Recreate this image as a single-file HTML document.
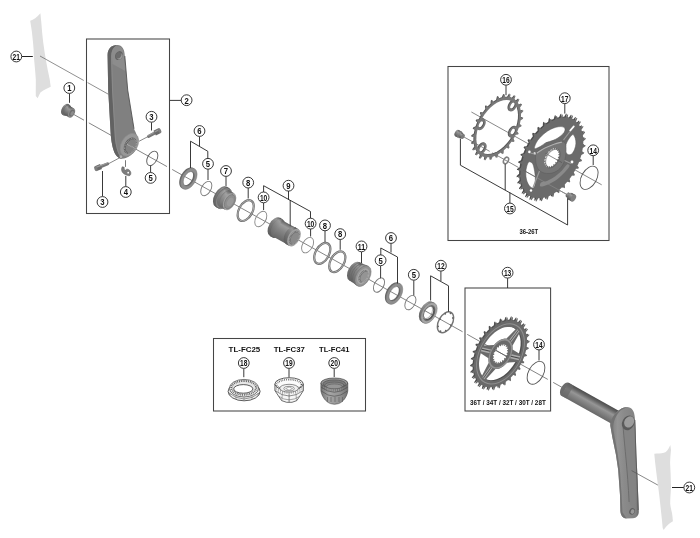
<!DOCTYPE html>
<html><head><meta charset="utf-8"><title>Exploded view</title>
<style>
html,body{margin:0;padding:0;background:#fff;}
body{width:700px;height:538px;overflow:hidden;font-family:"Liberation Sans",sans-serif;}
svg{display:block;will-change:transform;}
.b{font-family:"Liberation Sans",sans-serif;font-weight:bold;fill:#111;}
</style></head><body>
<svg width="700" height="538" viewBox="0 0 700 538">
<defs>
<linearGradient id="g1" gradientUnits="userSpaceOnUse" x1="69.08" y1="104.56" x2="63.12" y2="115.21"><stop offset="0" stop-color="#4e4e4e"/><stop offset="0.3" stop-color="#909090"/><stop offset="1" stop-color="#555"/></linearGradient>
<linearGradient id="g2" gradientUnits="userSpaceOnUse" x1="71.69" y1="107.17" x2="66.71" y2="116.07"><stop offset="0" stop-color="#555"/><stop offset="0.3" stop-color="#9a9a9a"/><stop offset="0.6" stop-color="#7e7e7e"/><stop offset="1" stop-color="#5a5a5a"/></linearGradient>
<linearGradient id="arm" x1="0" y1="0" x2="1" y2="0"><stop offset="0" stop-color="#555"/><stop offset="0.18" stop-color="#6a6a6a"/><stop offset="0.3" stop-color="#808080"/><stop offset="0.75" stop-color="#767676"/><stop offset="1" stop-color="#5c5c5c"/></linearGradient>
<linearGradient id="g3" gradientUnits="userSpaceOnUse" x1="227.96" y1="187.59" x2="216.84" y2="207.49"><stop offset="0" stop-color="#565656"/><stop offset="0.2" stop-color="#9a9a9a"/><stop offset="0.45" stop-color="#808080"/><stop offset="1" stop-color="#606060"/></linearGradient>
<linearGradient id="g4" gradientUnits="userSpaceOnUse" x1="231.24" y1="191.71" x2="222.06" y2="208.12"><stop offset="0" stop-color="#5e5e5e"/><stop offset="0.25" stop-color="#a2a2a2"/><stop offset="0.55" stop-color="#8a8a8a"/><stop offset="1" stop-color="#686868"/></linearGradient>
<linearGradient id="g5" gradientUnits="userSpaceOnUse" x1="281.32" y1="218.56" x2="271.18" y2="236.71"><stop offset="0" stop-color="#555"/><stop offset="0.25" stop-color="#969696"/><stop offset="0.5" stop-color="#7c7c7c"/><stop offset="1" stop-color="#5a5a5a"/></linearGradient>
<linearGradient id="g6" gradientUnits="userSpaceOnUse" x1="288.84" y1="223.9" x2="279.66" y2="240.31"><stop offset="0" stop-color="#606060"/><stop offset="0.22" stop-color="#9c9c9c"/><stop offset="0.5" stop-color="#858585"/><stop offset="1" stop-color="#666"/></linearGradient>
<linearGradient id="g7" gradientUnits="userSpaceOnUse" x1="296.93" y1="228.2" x2="287.57" y2="244.96"><stop offset="0" stop-color="#555"/><stop offset="0.25" stop-color="#969696"/><stop offset="0.5" stop-color="#7c7c7c"/><stop offset="1" stop-color="#5a5a5a"/></linearGradient>
<linearGradient id="g8" gradientUnits="userSpaceOnUse" x1="362.87" y1="264.02" x2="352.63" y2="282.35"><stop offset="0" stop-color="#565656"/><stop offset="0.2" stop-color="#969696"/><stop offset="0.45" stop-color="#7e7e7e"/><stop offset="1" stop-color="#606060"/></linearGradient>
<linearGradient id="g9" gradientUnits="userSpaceOnUse" x1="367.51" y1="265.69" x2="356.49" y2="285.42"><stop offset="0" stop-color="#5e5e5e"/><stop offset="0.25" stop-color="#a0a0a0"/><stop offset="0.55" stop-color="#888"/><stop offset="1" stop-color="#666"/></linearGradient>
<linearGradient id="g10" gradientUnits="userSpaceOnUse" x1="433.56" y1="302.49" x2="422.44" y2="322.4"><stop offset="0" stop-color="#5a5a5a"/><stop offset="0.3" stop-color="#9a9a9a"/><stop offset="1" stop-color="#5e5e5e"/></linearGradient>
<linearGradient id="g11" gradientUnits="userSpaceOnUse" x1="594.11" y1="397.1" x2="586.89" y2="410.02"><stop offset="0" stop-color="#4c4c4c"/><stop offset="0.18" stop-color="#666"/><stop offset="0.42" stop-color="#969696"/><stop offset="0.6" stop-color="#868686"/><stop offset="1" stop-color="#686868"/></linearGradient>
<linearGradient id="arm2" x1="0" y1="0" x2="1" y2="0"><stop offset="0" stop-color="#7c7c7c"/><stop offset="0.25" stop-color="#949494"/><stop offset="0.5" stop-color="#8a8a8a"/><stop offset="0.9" stop-color="#828282"/><stop offset="1" stop-color="#666"/></linearGradient>
<linearGradient id="g12" gradientUnits="userSpaceOnUse" x1="460.36" y1="130.84" x2="456.84" y2="137.12"><stop offset="0" stop-color="#555"/><stop offset="0.3" stop-color="#9a9a9a"/><stop offset="1" stop-color="#555"/></linearGradient>
<linearGradient id="g13" gradientUnits="userSpaceOnUse" x1="462.87" y1="133.39" x2="460.33" y2="137.93"><stop offset="0" stop-color="#555"/><stop offset="0.3" stop-color="#9a9a9a"/><stop offset="1" stop-color="#555"/></linearGradient>
<linearGradient id="g14" gradientUnits="userSpaceOnUse" x1="570.02" y1="193.27" x2="567.48" y2="197.81"><stop offset="0" stop-color="#555"/><stop offset="0.3" stop-color="#9a9a9a"/><stop offset="1" stop-color="#555"/></linearGradient>
<linearGradient id="g15" gradientUnits="userSpaceOnUse" x1="573.55" y1="193.87" x2="569.85" y2="200.51"><stop offset="0" stop-color="#555"/><stop offset="0.3" stop-color="#9a9a9a"/><stop offset="1" stop-color="#555"/></linearGradient>
<linearGradient id="t20" x1="0" y1="0" x2="1" y2="0"><stop offset="0" stop-color="#757575"/><stop offset="0.3" stop-color="#a6a6a6"/><stop offset="0.7" stop-color="#949494"/><stop offset="1" stop-color="#727272"/></linearGradient>
</defs>
<rect width="700" height="538" fill="#fff"/>
<path d="M40.4 13.2 C37 17.5 33.5 19.5 30.2 20.8 C31.5 28 32.4 35 33 42.2 C33.5 47 33.8 52 33.9 57 C34.5 64 35.4 72 35.8 79.3 C35.9 85 35.7 91 35.8 96 L37.7 98.2 C38.6 96 39.4 94 40.4 92.4 C43.5 90 47.5 88.2 50.7 86.8 C50.3 84 50 81.5 49.7 79.3 C48.4 73 47 67 46 60.8 C45 54.5 44 48.5 43.2 42.2 C42.5 36 41.8 30 41.4 23.6 Z" fill="#dedede" stroke="none" stroke-width="1" />
<path d="M670.3 445 C668.5 449.5 666.5 452 664 452.8 C661 453.6 657.5 453.4 654.3 453.8 C654.6 457 654.9 460 655.2 463 C656 470 657 478 658 485.2 C659 493 660 501 660.8 509.3 C661.5 515.5 662.2 522 662.7 528 L663.7 529.9 C665.5 527 667.5 525 669.5 523.5 C670.7 522.7 672 522 672.9 521.3 C672.7 518.5 672.4 515.5 672 513 C671.3 510 670.5 507 670.2 503.8 C670.2 498 670.8 492.5 671 487 C671 479 670.4 471 670.1 463 C670.2 458.5 670.6 454 671 450 Z" fill="#dedede" stroke="none" stroke-width="1" />
<line x1="40" y1="56" x2="83.8" y2="80.5" stroke="#606060" stroke-width="0.7" />
<line x1="87.6" y1="82.6" x2="108.5" y2="94.3" stroke="#606060" stroke-width="0.7" />
<line x1="74" y1="114.6" x2="84" y2="120.19" stroke="#5c5c5c" stroke-width="0.75" />
<line x1="88.8" y1="122.87" x2="167" y2="166.58" stroke="#5c5c5c" stroke-width="0.75" />
<line x1="172.2" y1="169.48" x2="462.6" y2="331.78" stroke="#5c5c5c" stroke-width="0.75" />
<line x1="467.2" y1="334.35" x2="547.8" y2="379.4" stroke="#5c5c5c" stroke-width="0.75" />
<line x1="553.2" y1="382.42" x2="562" y2="387.33" stroke="#5c5c5c" stroke-width="0.75" />
<rect x="86.5" y="39" width="83" height="174.5" fill="none" stroke="#454545" stroke-width="1.05"/>
<rect x="448" y="66.5" width="161" height="174" fill="none" stroke="#454545" stroke-width="1.05"/>
<rect x="465" y="288" width="85.6" height="123" fill="none" stroke="#454545" stroke-width="1.05"/>
<rect x="213.5" y="338.5" width="152" height="72.5" fill="none" stroke="#454545" stroke-width="1.05"/>
<ellipse cx="65.4" cy="109.49" rx="3.66" ry="6.1" transform="rotate(29.2 65.4 109.49)" fill="url(#g1)" stroke="none" stroke-width="1" />
<polygon points="68.38,104.17 69.78,104.95 63.82,115.6 62.42,114.82" fill="url(#g1)"/>
<ellipse cx="66.8" cy="110.28" rx="3.66" ry="6.1" transform="rotate(29.2 66.8 110.28)" fill="#6e6e6e" stroke="none" stroke-width="0.5" />
<ellipse cx="66.8" cy="110.28" rx="3.06" ry="5.1" transform="rotate(29.2 66.8 110.28)" fill="url(#g2)" stroke="none" stroke-width="1" />
<polygon points="69.29,105.82 74.09,108.51 69.11,117.41 64.31,114.73" fill="url(#g2)"/>
<ellipse cx="71.6" cy="112.96" rx="3.06" ry="5.1" transform="rotate(29.2 71.6 112.96)" fill="#8a8a8a" stroke="none" stroke-width="0.5" />
<ellipse cx="71.8" cy="113.07" rx="2.22" ry="3.7" transform="rotate(29.2 71.8 113.07)" fill="#6e6e6e" stroke="none" stroke-width="1" />
<ellipse cx="72.2" cy="113.29" rx="1.44" ry="2.4" transform="rotate(29.2 72.2 113.29)" fill="#8c8c8c" stroke="none" stroke-width="1" />
<path d="M117.5 45 C111 45 107.8 49 107.6 55 L108.2 90 L110.6 132 C111 140 112.5 149 115.2 153.9 C117 157 119.5 158.7 121.8 158.7 C125 158.7 127 157.5 129 156.4 C132 154.5 134.5 152 135.8 149.5 C137.5 146.5 138 144 137.8 142.6 C138 140 137.8 138 137.2 136.3 C136 133 135 131 134 128.8 L127.7 90 L124.8 56 C124.6 49 122 45 117.5 45Z" fill="#808080" stroke="none" stroke-width="1" />
<path d="M111.5 52 C112.5 48 115 46.3 118 46.3 C122 46.5 123.8 50 124 56 L125.2 71 L112.5 64 Z" fill="#8c8c8c" stroke="none" stroke-width="1" />
<path d="M117.5 45 C111 45 107.8 49 107.6 55 L108.2 90 L110.6 132 C111 140 112.5 149 115.2 153.9 C117 157 119.5 158.7 121.8 158.7 C118.5 155.5 116 148 115 138 L112.2 90 L111.2 57 C111.4 51 113.5 46.5 117.5 45Z" fill="#626262" stroke="none" stroke-width="1" />
<path d="M117.5 45.6 C113.5 47 111.6 51 111.5 57 L112.5 90 L115.3 138 C116.2 147 118.5 154.5 121.5 158" fill="none" stroke="#8e8e8e" stroke-width="0.8" />
<path d="M124.8 56 L127.7 90 L134 128.8" fill="none" stroke="#525252" stroke-width="0.9" />
<ellipse cx="118.9" cy="55.6" rx="3.67" ry="4.7" transform="rotate(29.2 118.9 55.6)" fill="#646464" stroke="none" stroke-width="1" />
<ellipse cx="119.7" cy="56.3" rx="2.57" ry="3.3" transform="rotate(29.2 119.7 56.3)" fill="#9a9a9a" stroke="none" stroke-width="1" />
<ellipse cx="118.6" cy="55.3" rx="2.57" ry="3.3" transform="rotate(29.2 118.6 55.3)" fill="#6c6c6c" stroke="none" stroke-width="1" />
<ellipse cx="129.3" cy="144.8" rx="8.12" ry="12.3" transform="rotate(29.2 129.3 144.8)" fill="#989898" stroke="none" stroke-width="1" />
<ellipse cx="129.3" cy="144.8" rx="8.12" ry="12.3" transform="rotate(29.2 129.3 144.8)" fill="none" stroke="#8a8a8a" stroke-width="0.6" />
<ellipse cx="130.2" cy="145.6" rx="5.68" ry="8.6" transform="rotate(29.2 130.2 145.6)" fill="#5e5e5e" stroke="none" stroke-width="1" />
<ellipse cx="131" cy="146" rx="4.75" ry="7.2" transform="rotate(29.2 131 146)" fill="#828282" stroke="none" stroke-width="1" />
<ellipse cx="130.5" cy="145.8" rx="5.15" ry="7.8" transform="rotate(29.2 130.5 145.8)" fill="none" stroke="#a8a8a8" stroke-width="1.0" stroke-dasharray="0.7 0.9"/>
<line x1="127.3" y1="144.3" x2="134.2" y2="148.1" stroke="#c4c4c4" stroke-width="1.1" stroke-dasharray="0.6 0.7"/>
<ellipse cx="120.9" cy="156.7" rx="1.35" ry="1.5" transform="rotate(29.2 120.9 156.7)" fill="#b0b0b0" stroke="none" stroke-width="1" />
<line x1="139" y1="141.3" x2="148.5" y2="136.3" stroke="#555" stroke-width="0.7" />
<line x1="148.6" y1="136.4" x2="154.65" y2="133.21" stroke="#777" stroke-width="3.1" stroke-linecap="round"/>
<line x1="148.27" y1="135.58" x2="154.32" y2="132.39" stroke="#a0a0a0" stroke-width="0.9" />
<line x1="154.65" y1="133.21" x2="159.6" y2="130.6" stroke="#6a6a6a" stroke-width="5.3" />
<line x1="154.65" y1="132.01" x2="159.6" y2="129.4" stroke="#9a9a9a" stroke-width="1.3" />
<ellipse cx="159.6" cy="130.6" rx="1.5" ry="2.65" fill="#7e7e7e" transform="rotate(-27.8 159.6 130.6)"/>
<line x1="108" y1="164" x2="120" y2="157.6" stroke="#555" stroke-width="0.7" />
<line x1="107.6" y1="163.9" x2="101" y2="166.53" stroke="#777" stroke-width="3.1" stroke-linecap="round"/>
<line x1="107.34" y1="163.05" x2="100.74" y2="165.68" stroke="#a0a0a0" stroke-width="0.9" />
<line x1="101" y1="166.53" x2="95.8" y2="168.6" stroke="#6a6a6a" stroke-width="5.3" />
<line x1="101" y1="165.33" x2="95.8" y2="167.4" stroke="#9a9a9a" stroke-width="1.3" />
<ellipse cx="95.8" cy="168.6" rx="1.5" ry="2.65" fill="#7e7e7e" transform="rotate(158.28 95.8 168.6)"/>
<line x1="125.5" y1="160.2" x2="125.5" y2="166.9" stroke="#555" stroke-width="0.8" />
<path d="M122.2 166.8 C121.2 168.5 121.4 171 122.6 172.6 C124 174.3 127 175.6 129 175.8 C130.6 175.6 131 174 130.8 172.5 C130.6 171 129.3 169.6 127.8 169.2 C126.6 169 125.6 169.6 125.2 170.6 C124.6 170.2 124 168.6 124.2 167.2 Z" fill="#7c7c7c" stroke="#555" stroke-width="0.5" />
<circle cx="128.2" cy="172.7" r="0.9" fill="#fff"/>
<ellipse cx="152.3" cy="158.36" rx="4.68" ry="7.8" transform="rotate(29.2 152.3 158.36)" fill="none" stroke="#555" stroke-width="0.9" />
<path fill-rule="evenodd" fill="#666" d="M11.6 0 L11.46 1.81 L11.03 3.58 L10.34 5.27 L9.38 6.82 L8.2 8.2 L6.82 9.38 L5.27 10.34 L3.58 11.03 L1.81 11.46 L0 11.6 L-1.81 11.46 L-3.58 11.03 L-5.27 10.34 L-6.82 9.38 L-8.2 8.2 L-9.38 6.82 L-10.34 5.27 L-11.03 3.58 L-11.46 1.81 L-11.6 0 L-11.46 -1.81 L-11.03 -3.58 L-10.34 -5.27 L-9.38 -6.82 L-8.2 -8.2 L-6.82 -9.38 L-5.27 -10.34 L-3.58 -11.03 L-1.81 -11.46 L-0 -11.6 L1.81 -11.46 L3.58 -11.03 L5.27 -10.34 L6.82 -9.38 L8.2 -8.2 L9.38 -6.82 L10.34 -5.27 L11.03 -3.58 L11.46 -1.81Z M7.8 0 L7.7 1.22 L7.42 2.41 L6.95 3.54 L6.31 4.58 L5.52 5.52 L4.58 6.31 L3.54 6.95 L2.41 7.42 L1.22 7.7 L0 7.8 L-1.22 7.7 L-2.41 7.42 L-3.54 6.95 L-4.58 6.31 L-5.52 5.52 L-6.31 4.58 L-6.95 3.54 L-7.42 2.41 L-7.7 1.22 L-7.8 0 L-7.7 -1.22 L-7.42 -2.41 L-6.95 -3.54 L-6.31 -4.58 L-5.52 -5.52 L-4.58 -6.31 L-3.54 -6.95 L-2.41 -7.42 L-1.22 -7.7 L-0 -7.8 L1.22 -7.7 L2.41 -7.42 L3.54 -6.95 L4.58 -6.31 L5.52 -5.52 L6.31 -4.58 L6.95 -3.54 L7.42 -2.41 L7.7 -1.22Z " transform="translate(187.5 178.06) rotate(29.2) scale(0.6 1)"/>
<path fill-rule="evenodd" fill="#8e8e8e" d="M11.6 0 L11.46 1.81 L11.03 3.58 L10.34 5.27 L9.38 6.82 L8.2 8.2 L6.82 9.38 L5.27 10.34 L3.58 11.03 L1.81 11.46 L0 11.6 L-1.81 11.46 L-3.58 11.03 L-5.27 10.34 L-6.82 9.38 L-8.2 8.2 L-9.38 6.82 L-10.34 5.27 L-11.03 3.58 L-11.46 1.81 L-11.6 0 L-11.46 -1.81 L-11.03 -3.58 L-10.34 -5.27 L-9.38 -6.82 L-8.2 -8.2 L-6.82 -9.38 L-5.27 -10.34 L-3.58 -11.03 L-1.81 -11.46 L-0 -11.6 L1.81 -11.46 L3.58 -11.03 L5.27 -10.34 L6.82 -9.38 L8.2 -8.2 L9.38 -6.82 L10.34 -5.27 L11.03 -3.58 L11.46 -1.81Z M7.8 0 L7.7 1.22 L7.42 2.41 L6.95 3.54 L6.31 4.58 L5.52 5.52 L4.58 6.31 L3.54 6.95 L2.41 7.42 L1.22 7.7 L0 7.8 L-1.22 7.7 L-2.41 7.42 L-3.54 6.95 L-4.58 6.31 L-5.52 5.52 L-6.31 4.58 L-6.95 3.54 L-7.42 2.41 L-7.7 1.22 L-7.8 0 L-7.7 -1.22 L-7.42 -2.41 L-6.95 -3.54 L-6.31 -4.58 L-5.52 -5.52 L-4.58 -6.31 L-3.54 -6.95 L-2.41 -7.42 L-1.22 -7.7 L-0 -7.8 L1.22 -7.7 L2.41 -7.42 L3.54 -6.95 L4.58 -6.31 L5.52 -5.52 L6.31 -4.58 L6.95 -3.54 L7.42 -2.41 L7.7 -1.22Z " transform="translate(188.8 178.76) rotate(29.2) scale(0.6 1)"/>
<ellipse cx="188.8" cy="178.76" rx="4.68" ry="7.8" transform="rotate(29.2 188.8 178.76)" fill="none" stroke="#6a6a6a" stroke-width="0.5" />
<ellipse cx="188.8" cy="178.76" rx="6.96" ry="11.6" transform="rotate(29.2 188.8 178.76)" fill="none" stroke="#7a7a7a" stroke-width="0.4" />
<ellipse cx="206.3" cy="188.54" rx="4.68" ry="7.8" transform="rotate(29.2 206.3 188.54)" fill="none" stroke="#777" stroke-width="0.9" />
<ellipse cx="221.1" cy="196.81" rx="6.84" ry="11.4" transform="rotate(29.2 221.1 196.81)" fill="url(#g3)" stroke="none" stroke-width="1" />
<polygon points="226.66,186.86 229.26,188.31 218.14,208.22 215.54,206.76" fill="url(#g3)"/>
<ellipse cx="223.7" cy="198.26" rx="6.84" ry="11.4" transform="rotate(29.2 223.7 198.26)" fill="#858585" stroke="none" stroke-width="0.5" />
<ellipse cx="222" cy="197.31" rx="6.84" ry="11.4" transform="rotate(29.2 222 197.31)" fill="none" stroke="#646464" stroke-width="0.5" />
<ellipse cx="223.7" cy="198.26" rx="6.84" ry="11.4" transform="rotate(29.2 223.7 198.26)" fill="none" stroke="#646464" stroke-width="0.5" />
<ellipse cx="223.7" cy="198.26" rx="5.64" ry="9.4" transform="rotate(29.2 223.7 198.26)" fill="url(#g4)" stroke="none" stroke-width="1" />
<polygon points="228.29,190.06 234.19,193.36 225.01,209.77 219.11,206.47" fill="url(#g4)"/>
<ellipse cx="229.6" cy="201.56" rx="5.64" ry="9.4" transform="rotate(29.2 229.6 201.56)" fill="#a2a2a2" stroke="none" stroke-width="0.5" />
<ellipse cx="226" cy="199.55" rx="5.64" ry="9.4" transform="rotate(29.2 226 199.55)" fill="none" stroke="#707070" stroke-width="0.5" />
<ellipse cx="229.8" cy="201.67" rx="4.56" ry="7.6" transform="rotate(29.2 229.8 201.67)" fill="#8e8e8e" stroke="none" stroke-width="1" />
<ellipse cx="229.8" cy="201.67" rx="4.56" ry="7.6" transform="rotate(29.2 229.8 201.67)" fill="none" stroke="#747474" stroke-width="0.6" />
<ellipse cx="230.2" cy="201.9" rx="2.76" ry="4.6" transform="rotate(29.2 230.2 201.9)" fill="#9a9a9a" stroke="none" stroke-width="1" />
<ellipse cx="245.7" cy="210.56" rx="6.78" ry="11.3" transform="rotate(29.2 245.7 210.56)" fill="none" stroke="#6c6c6c" stroke-width="2.2" />
<ellipse cx="245.7" cy="210.56" rx="6.78" ry="11.3" transform="rotate(29.2 245.7 210.56)" fill="none" stroke="#b4b4b4" stroke-width="0.8" />
<ellipse cx="260.8" cy="219" rx="5.04" ry="8.4" transform="rotate(29.2 260.8 219)" fill="none" stroke="#888" stroke-width="0.9" />
<ellipse cx="275" cy="226.94" rx="6.24" ry="10.4" transform="rotate(29.2 275 226.94)" fill="url(#g5)" stroke="none" stroke-width="1" />
<polygon points="280.07,217.86 282.57,219.25 272.43,237.41 269.93,236.01" fill="url(#g5)"/>
<ellipse cx="277.5" cy="228.33" rx="6.24" ry="10.4" transform="rotate(29.2 277.5 228.33)" fill="url(#g5)" stroke="none" stroke-width="0.5" />
<ellipse cx="277.5" cy="228.33" rx="5.64" ry="9.4" transform="rotate(29.2 277.5 228.33)" fill="url(#g6)" stroke="none" stroke-width="1" />
<polygon points="282.09,220.13 295.59,227.67 286.41,244.08 272.91,236.54" fill="url(#g6)"/>
<ellipse cx="291" cy="235.88" rx="5.64" ry="9.4" transform="rotate(29.2 291 235.88)" fill="url(#g6)" stroke="none" stroke-width="0.5" />
<ellipse cx="290.5" cy="235.6" rx="5.76" ry="9.6" transform="rotate(29.2 290.5 235.6)" fill="url(#g7)" stroke="none" stroke-width="1" />
<polygon points="295.18,227.22 298.68,229.17 289.32,245.93 285.82,243.98" fill="url(#g7)"/>
<ellipse cx="294" cy="237.55" rx="5.76" ry="9.6" transform="rotate(29.2 294 237.55)" fill="#a0a0a0" stroke="none" stroke-width="0.5" />
<ellipse cx="294.2" cy="237.67" rx="4.56" ry="7.6" transform="rotate(29.2 294.2 237.67)" fill="#6e6e6e" stroke="none" stroke-width="1" />
<ellipse cx="294.9" cy="238.06" rx="3.6" ry="6" transform="rotate(29.2 294.9 238.06)" fill="#8a8a8a" stroke="none" stroke-width="1" />
<ellipse cx="294.5" cy="237.83" rx="4.08" ry="6.8" transform="rotate(29.2 294.5 237.83)" fill="none" stroke="#b0b0b0" stroke-width="1" stroke-dasharray="0.6 0.8"/>
<ellipse cx="307.6" cy="245.15" rx="5.04" ry="8.4" transform="rotate(29.2 307.6 245.15)" fill="none" stroke="#888" stroke-width="0.9" />
<ellipse cx="322.3" cy="253.37" rx="6.78" ry="11.3" transform="rotate(29.2 322.3 253.37)" fill="none" stroke="#6c6c6c" stroke-width="2.2" />
<ellipse cx="322.3" cy="253.37" rx="6.78" ry="11.3" transform="rotate(29.2 322.3 253.37)" fill="none" stroke="#b4b4b4" stroke-width="0.8" />
<ellipse cx="337.3" cy="261.75" rx="6.78" ry="11.3" transform="rotate(29.2 337.3 261.75)" fill="none" stroke="#6c6c6c" stroke-width="2.2" />
<ellipse cx="337.3" cy="261.75" rx="6.78" ry="11.3" transform="rotate(29.2 337.3 261.75)" fill="none" stroke="#b4b4b4" stroke-width="0.8" />
<ellipse cx="354.5" cy="271.37" rx="6.3" ry="10.5" transform="rotate(29.2 354.5 271.37)" fill="url(#g8)" stroke="none" stroke-width="1" />
<polygon points="359.62,262.2 366.12,265.83 355.88,284.16 349.38,280.53" fill="url(#g8)"/>
<ellipse cx="361" cy="275" rx="6.3" ry="10.5" transform="rotate(29.2 361 275)" fill="url(#g8)" stroke="none" stroke-width="0.5" />
<ellipse cx="356.5" cy="272.48" rx="6.3" ry="10.5" transform="rotate(29.2 356.5 272.48)" fill="none" stroke="#626262" stroke-width="0.5" />
<ellipse cx="358.5" cy="273.6" rx="6.3" ry="10.5" transform="rotate(29.2 358.5 273.6)" fill="none" stroke="#626262" stroke-width="0.5" />
<ellipse cx="360.5" cy="274.72" rx="6.3" ry="10.5" transform="rotate(29.2 360.5 274.72)" fill="none" stroke="#626262" stroke-width="0.5" />
<ellipse cx="361" cy="275" rx="6.78" ry="11.3" transform="rotate(29.2 361 275)" fill="url(#g9)" stroke="none" stroke-width="1" />
<polygon points="366.51,265.13 368.51,266.25 357.49,285.98 355.49,284.86" fill="url(#g9)"/>
<ellipse cx="363" cy="276.12" rx="6.78" ry="11.3" transform="rotate(29.2 363 276.12)" fill="#949494" stroke="none" stroke-width="0.5" />
<ellipse cx="363" cy="276.12" rx="6.78" ry="11.3" transform="rotate(29.2 363 276.12)" fill="none" stroke="#707070" stroke-width="0.5" />
<ellipse cx="363.2" cy="276.23" rx="5.16" ry="8.6" transform="rotate(29.2 363.2 276.23)" fill="#a8a8a8" stroke="none" stroke-width="1" />
<ellipse cx="363.4" cy="276.34" rx="4.2" ry="7" transform="rotate(29.2 363.4 276.34)" fill="#727272" stroke="none" stroke-width="1" />
<ellipse cx="364.2" cy="276.79" rx="3.24" ry="5.4" transform="rotate(29.2 364.2 276.79)" fill="#949494" stroke="none" stroke-width="1" />
<ellipse cx="363.7" cy="276.51" rx="3.78" ry="6.3" transform="rotate(29.2 363.7 276.51)" fill="none" stroke="#b8b8b8" stroke-width="1" stroke-dasharray="0.6 0.8"/>
<ellipse cx="379" cy="285.06" rx="4.68" ry="7.8" transform="rotate(29.2 379 285.06)" fill="none" stroke="#777" stroke-width="0.9" />
<path fill-rule="evenodd" fill="#666" d="M11.6 0 L11.46 1.81 L11.03 3.58 L10.34 5.27 L9.38 6.82 L8.2 8.2 L6.82 9.38 L5.27 10.34 L3.58 11.03 L1.81 11.46 L0 11.6 L-1.81 11.46 L-3.58 11.03 L-5.27 10.34 L-6.82 9.38 L-8.2 8.2 L-9.38 6.82 L-10.34 5.27 L-11.03 3.58 L-11.46 1.81 L-11.6 0 L-11.46 -1.81 L-11.03 -3.58 L-10.34 -5.27 L-9.38 -6.82 L-8.2 -8.2 L-6.82 -9.38 L-5.27 -10.34 L-3.58 -11.03 L-1.81 -11.46 L-0 -11.6 L1.81 -11.46 L3.58 -11.03 L5.27 -10.34 L6.82 -9.38 L8.2 -8.2 L9.38 -6.82 L10.34 -5.27 L11.03 -3.58 L11.46 -1.81Z M7.8 0 L7.7 1.22 L7.42 2.41 L6.95 3.54 L6.31 4.58 L5.52 5.52 L4.58 6.31 L3.54 6.95 L2.41 7.42 L1.22 7.7 L0 7.8 L-1.22 7.7 L-2.41 7.42 L-3.54 6.95 L-4.58 6.31 L-5.52 5.52 L-6.31 4.58 L-6.95 3.54 L-7.42 2.41 L-7.7 1.22 L-7.8 0 L-7.7 -1.22 L-7.42 -2.41 L-6.95 -3.54 L-6.31 -4.58 L-5.52 -5.52 L-4.58 -6.31 L-3.54 -6.95 L-2.41 -7.42 L-1.22 -7.7 L-0 -7.8 L1.22 -7.7 L2.41 -7.42 L3.54 -6.95 L4.58 -6.31 L5.52 -5.52 L6.31 -4.58 L6.95 -3.54 L7.42 -2.41 L7.7 -1.22Z " transform="translate(393.2 293.02) rotate(29.2) scale(0.6 1)"/>
<path fill-rule="evenodd" fill="#8e8e8e" d="M11.6 0 L11.46 1.81 L11.03 3.58 L10.34 5.27 L9.38 6.82 L8.2 8.2 L6.82 9.38 L5.27 10.34 L3.58 11.03 L1.81 11.46 L0 11.6 L-1.81 11.46 L-3.58 11.03 L-5.27 10.34 L-6.82 9.38 L-8.2 8.2 L-9.38 6.82 L-10.34 5.27 L-11.03 3.58 L-11.46 1.81 L-11.6 0 L-11.46 -1.81 L-11.03 -3.58 L-10.34 -5.27 L-9.38 -6.82 L-8.2 -8.2 L-6.82 -9.38 L-5.27 -10.34 L-3.58 -11.03 L-1.81 -11.46 L-0 -11.6 L1.81 -11.46 L3.58 -11.03 L5.27 -10.34 L6.82 -9.38 L8.2 -8.2 L9.38 -6.82 L10.34 -5.27 L11.03 -3.58 L11.46 -1.81Z M7.8 0 L7.7 1.22 L7.42 2.41 L6.95 3.54 L6.31 4.58 L5.52 5.52 L4.58 6.31 L3.54 6.95 L2.41 7.42 L1.22 7.7 L0 7.8 L-1.22 7.7 L-2.41 7.42 L-3.54 6.95 L-4.58 6.31 L-5.52 5.52 L-6.31 4.58 L-6.95 3.54 L-7.42 2.41 L-7.7 1.22 L-7.8 0 L-7.7 -1.22 L-7.42 -2.41 L-6.95 -3.54 L-6.31 -4.58 L-5.52 -5.52 L-4.58 -6.31 L-3.54 -6.95 L-2.41 -7.42 L-1.22 -7.7 L-0 -7.8 L1.22 -7.7 L2.41 -7.42 L3.54 -6.95 L4.58 -6.31 L5.52 -5.52 L6.31 -4.58 L6.95 -3.54 L7.42 -2.41 L7.7 -1.22Z " transform="translate(394.5 293.72) rotate(29.2) scale(0.6 1)"/>
<ellipse cx="394.5" cy="293.72" rx="4.68" ry="7.8" transform="rotate(29.2 394.5 293.72)" fill="none" stroke="#6a6a6a" stroke-width="0.5" />
<ellipse cx="394.5" cy="293.72" rx="6.96" ry="11.6" transform="rotate(29.2 394.5 293.72)" fill="none" stroke="#7a7a7a" stroke-width="0.4" />
<ellipse cx="410.4" cy="302.61" rx="4.68" ry="7.8" transform="rotate(29.2 410.4 302.61)" fill="none" stroke="#777" stroke-width="0.9" />
<ellipse cx="427" cy="311.89" rx="6.84" ry="11.4" transform="rotate(29.2 427 311.89)" fill="url(#g10)" stroke="none" stroke-width="1" />
<polygon points="432.56,301.93 434.56,303.05 423.44,322.95 421.44,321.84" fill="url(#g10)"/>
<ellipse cx="429" cy="313" rx="6.84" ry="11.4" transform="rotate(29.2 429 313)" fill="#a6a6a6" stroke="none" stroke-width="0.5" />
<ellipse cx="429" cy="313" rx="6.84" ry="11.4" transform="rotate(29.2 429 313)" fill="none" stroke="#777" stroke-width="0.5" />
<ellipse cx="429.2" cy="313.11" rx="5.28" ry="8.8" transform="rotate(29.2 429.2 313.11)" fill="#707070" stroke="none" stroke-width="1" />
<ellipse cx="429.6" cy="313.34" rx="4.38" ry="7.3" transform="rotate(29.2 429.6 313.34)" fill="#555" stroke="none" stroke-width="1" />
<ellipse cx="428.6" cy="312.78" rx="3.9" ry="6.5" transform="rotate(29.2 428.6 312.78)" fill="#fff" stroke="none" stroke-width="1" />
<ellipse cx="427.6" cy="312.22" rx="4.14" ry="6.9" transform="rotate(29.2 427.6 312.22)" fill="none" stroke="#9a9a9a" stroke-width="0.7" />
<line x1="424.4" y1="310.43" x2="432" y2="314.68" stroke="#555" stroke-width="0.75" />
<ellipse cx="445.5" cy="322.22" rx="6.84" ry="11.4" transform="rotate(29.2 445.5 322.22)" fill="none" stroke="#747474" stroke-width="1.4" />
<circle cx="450.89" cy="325.24" r="0.9" fill="#666"/>
<circle cx="445.76" cy="330.71" r="0.9" fill="#666"/>
<circle cx="440.48" cy="331.22" r="0.9" fill="#666"/>
<circle cx="438.13" cy="326.45" r="0.9" fill="#666"/>
<circle cx="440.11" cy="319.21" r="0.9" fill="#666"/>
<circle cx="445.24" cy="313.73" r="0.9" fill="#666"/>
<circle cx="450.52" cy="313.23" r="0.9" fill="#666"/>
<circle cx="452.87" cy="318" r="0.9" fill="#666"/>
<path fill-rule="evenodd" fill="#4f4f4f" d="M36.2 0 L36.15 1.99 L39.47 3.26 L39.34 4.5 L35.84 5.1 L35.5 7.06 L35.06 9 L38.07 10.9 L37.71 12.09 L34.16 11.99 L33.44 13.85 L32.63 15.67 L35.21 18.12 L34.63 19.21 L31.16 18.43 L30.1 20.11 L28.95 21.74 L31 24.64 L30.21 25.6 L26.97 24.15 L25.6 25.6 L24.15 26.97 L25.6 30.21 L24.64 31 L21.74 28.95 L20.11 30.1 L18.43 31.16 L19.21 34.63 L18.12 35.21 L15.67 32.63 L13.85 33.44 L11.99 34.16 L12.09 37.71 L10.9 38.07 L9 35.06 L7.06 35.5 L5.1 35.84 L4.5 39.34 L3.26 39.47 L1.99 36.15 L0 36.2 L-1.99 36.15 L-3.26 39.47 L-4.5 39.34 L-5.1 35.84 L-7.06 35.5 L-9 35.06 L-10.9 38.07 L-12.09 37.71 L-11.99 34.16 L-13.85 33.44 L-15.67 32.63 L-18.12 35.21 L-19.21 34.63 L-18.43 31.16 L-20.11 30.1 L-21.74 28.95 L-24.64 31 L-25.6 30.21 L-24.15 26.97 L-25.6 25.6 L-26.97 24.15 L-30.21 25.6 L-31 24.64 L-28.95 21.74 L-30.1 20.11 L-31.16 18.43 L-34.63 19.21 L-35.21 18.12 L-32.63 15.67 L-33.44 13.85 L-34.16 11.99 L-37.71 12.09 L-38.07 10.9 L-35.06 9 L-35.5 7.06 L-35.84 5.1 L-39.34 4.5 L-39.47 3.26 L-36.15 1.99 L-36.2 0 L-36.15 -1.99 L-39.47 -3.26 L-39.34 -4.5 L-35.84 -5.1 L-35.5 -7.06 L-35.06 -9 L-38.07 -10.9 L-37.71 -12.09 L-34.16 -11.99 L-33.44 -13.85 L-32.63 -15.67 L-35.21 -18.12 L-34.63 -19.21 L-31.16 -18.43 L-30.1 -20.11 L-28.95 -21.74 L-31 -24.64 L-30.21 -25.6 L-26.97 -24.15 L-25.6 -25.6 L-24.15 -26.97 L-25.6 -30.21 L-24.64 -31 L-21.74 -28.95 L-20.11 -30.1 L-18.43 -31.16 L-19.21 -34.63 L-18.12 -35.21 L-15.67 -32.63 L-13.85 -33.44 L-11.99 -34.16 L-12.09 -37.71 L-10.9 -38.07 L-9 -35.06 L-7.06 -35.5 L-5.1 -35.84 L-4.5 -39.34 L-3.26 -39.47 L-1.99 -36.15 L-0 -36.2 L1.99 -36.15 L3.26 -39.47 L4.5 -39.34 L5.1 -35.84 L7.06 -35.5 L9 -35.06 L10.9 -38.07 L12.09 -37.71 L11.99 -34.16 L13.85 -33.44 L15.67 -32.63 L18.12 -35.21 L19.21 -34.63 L18.43 -31.16 L20.11 -30.1 L21.74 -28.95 L24.64 -31 L25.6 -30.21 L24.15 -26.97 L25.6 -25.6 L26.97 -24.15 L30.21 -25.6 L31 -24.64 L28.95 -21.74 L30.1 -20.11 L31.16 -18.43 L34.63 -19.21 L35.21 -18.12 L32.63 -15.67 L33.44 -13.85 L34.16 -11.99 L37.71 -12.09 L38.07 -10.9 L35.06 -9 L35.5 -7.06 L35.84 -5.1 L39.34 -4.5 L39.47 -3.26 L36.15 -1.99Z M29.2 0 L28.84 4.57 L27.77 9.02 L26.02 13.26 L23.62 17.16 L20.65 20.65 L17.16 23.62 L13.26 26.02 L9.02 27.77 L4.57 28.84 L0 29.2 L-4.57 28.84 L-9.02 27.77 L-13.26 26.02 L-17.16 23.62 L-20.65 20.65 L-23.62 17.16 L-26.02 13.26 L-27.77 9.02 L-28.84 4.57 L-29.2 0 L-28.84 -4.57 L-27.77 -9.02 L-26.02 -13.26 L-23.62 -17.16 L-20.65 -20.65 L-17.16 -23.62 L-13.26 -26.02 L-9.02 -27.77 L-4.57 -28.84 L-0 -29.2 L4.57 -28.84 L9.02 -27.77 L13.26 -26.02 L17.16 -23.62 L20.65 -20.65 L23.62 -17.16 L26.02 -13.26 L27.77 -9.02 L28.84 -4.57Z " transform="translate(499.2 353.16) rotate(29.2) scale(0.63 1)" />
<path fill-rule="evenodd" fill="#6a6a6a" d="M36.2 0 L36.15 1.99 L39.47 3.26 L39.34 4.5 L35.84 5.1 L35.5 7.06 L35.06 9 L38.07 10.9 L37.71 12.09 L34.16 11.99 L33.44 13.85 L32.63 15.67 L35.21 18.12 L34.63 19.21 L31.16 18.43 L30.1 20.11 L28.95 21.74 L31 24.64 L30.21 25.6 L26.97 24.15 L25.6 25.6 L24.15 26.97 L25.6 30.21 L24.64 31 L21.74 28.95 L20.11 30.1 L18.43 31.16 L19.21 34.63 L18.12 35.21 L15.67 32.63 L13.85 33.44 L11.99 34.16 L12.09 37.71 L10.9 38.07 L9 35.06 L7.06 35.5 L5.1 35.84 L4.5 39.34 L3.26 39.47 L1.99 36.15 L0 36.2 L-1.99 36.15 L-3.26 39.47 L-4.5 39.34 L-5.1 35.84 L-7.06 35.5 L-9 35.06 L-10.9 38.07 L-12.09 37.71 L-11.99 34.16 L-13.85 33.44 L-15.67 32.63 L-18.12 35.21 L-19.21 34.63 L-18.43 31.16 L-20.11 30.1 L-21.74 28.95 L-24.64 31 L-25.6 30.21 L-24.15 26.97 L-25.6 25.6 L-26.97 24.15 L-30.21 25.6 L-31 24.64 L-28.95 21.74 L-30.1 20.11 L-31.16 18.43 L-34.63 19.21 L-35.21 18.12 L-32.63 15.67 L-33.44 13.85 L-34.16 11.99 L-37.71 12.09 L-38.07 10.9 L-35.06 9 L-35.5 7.06 L-35.84 5.1 L-39.34 4.5 L-39.47 3.26 L-36.15 1.99 L-36.2 0 L-36.15 -1.99 L-39.47 -3.26 L-39.34 -4.5 L-35.84 -5.1 L-35.5 -7.06 L-35.06 -9 L-38.07 -10.9 L-37.71 -12.09 L-34.16 -11.99 L-33.44 -13.85 L-32.63 -15.67 L-35.21 -18.12 L-34.63 -19.21 L-31.16 -18.43 L-30.1 -20.11 L-28.95 -21.74 L-31 -24.64 L-30.21 -25.6 L-26.97 -24.15 L-25.6 -25.6 L-24.15 -26.97 L-25.6 -30.21 L-24.64 -31 L-21.74 -28.95 L-20.11 -30.1 L-18.43 -31.16 L-19.21 -34.63 L-18.12 -35.21 L-15.67 -32.63 L-13.85 -33.44 L-11.99 -34.16 L-12.09 -37.71 L-10.9 -38.07 L-9 -35.06 L-7.06 -35.5 L-5.1 -35.84 L-4.5 -39.34 L-3.26 -39.47 L-1.99 -36.15 L-0 -36.2 L1.99 -36.15 L3.26 -39.47 L4.5 -39.34 L5.1 -35.84 L7.06 -35.5 L9 -35.06 L10.9 -38.07 L12.09 -37.71 L11.99 -34.16 L13.85 -33.44 L15.67 -32.63 L18.12 -35.21 L19.21 -34.63 L18.43 -31.16 L20.11 -30.1 L21.74 -28.95 L24.64 -31 L25.6 -30.21 L24.15 -26.97 L25.6 -25.6 L26.97 -24.15 L30.21 -25.6 L31 -24.64 L28.95 -21.74 L30.1 -20.11 L31.16 -18.43 L34.63 -19.21 L35.21 -18.12 L32.63 -15.67 L33.44 -13.85 L34.16 -11.99 L37.71 -12.09 L38.07 -10.9 L35.06 -9 L35.5 -7.06 L35.84 -5.1 L39.34 -4.5 L39.47 -3.26 L36.15 -1.99Z M10.29 -12.9 L10.53 -12.71 L10.76 -12.51 L10.99 -12.31 L11.22 -12.1 L11.44 -11.89 L11.66 -11.67 L11.88 -11.45 L12.09 -11.23 L12.3 -11 L12.5 -10.77 L12.7 -10.53 L12.89 -10.29 L13.08 -10.05 L13.27 -9.81 L27.65 -9.4 L27 -11.11 L26.25 -12.78 L25.4 -14.41 L24.45 -15.97 L23.39 -17.47 L22.25 -18.91 L21.02 -20.27 L19.71 -21.54 L18.32 -22.74 L16.86 -23.84 L15.33 -24.85 L13.74 -25.77 L12.09 -26.58 L10.4 -27.28Z M15.89 4.46 L15.53 5.58 L15.09 6.67 L14.58 7.73 L13.99 8.75 L13.33 9.73 L12.6 10.65 L11.81 11.52 L10.96 12.34 L10.05 13.09 L9.09 13.77 L8.08 14.38 L7.04 14.92 L5.95 15.39 L4.84 15.77 L-0.32 29.2 L3.05 29.04 L6.37 28.5 L9.62 27.57 L12.73 26.28 L15.67 24.64 L18.41 22.67 L20.9 20.39 L23.11 17.85 L25.01 15.07 L26.58 12.08 L27.8 8.94 L28.64 5.67 L29.11 2.34 L29.18 -1.03Z M-9.48 13.51 L-9.79 13.28 L-10.1 13.04 L-10.41 12.8 L-10.71 12.55 L-11 12.3 L-11.28 12.04 L-11.57 11.77 L-11.84 11.49 L-12.11 11.21 L-12.37 10.92 L-12.62 10.63 L-12.87 10.33 L-13.11 10.02 L-13.34 9.71 L-27.71 9.2 L-27.03 11.05 L-26.22 12.86 L-25.29 14.6 L-24.24 16.27 L-23.09 17.88 L-21.83 19.4 L-20.47 20.83 L-19.01 22.16 L-17.47 23.4 L-15.85 24.52 L-14.15 25.54 L-12.4 26.44 L-10.58 27.22 L-8.72 27.87Z M-15.86 -4.57 L-15.47 -5.75 L-14.99 -6.89 L-14.43 -8 L-13.79 -9.06 L-13.07 -10.07 L-12.27 -11.03 L-11.41 -11.92 L-10.48 -12.74 L-9.49 -13.5 L-8.45 -14.17 L-7.36 -14.77 L-6.23 -15.28 L-5.07 -15.7 L-3.87 -16.04 L2.1 -29.12 L-1.38 -29.17 L-4.84 -28.8 L-8.24 -28.01 L-11.52 -26.83 L-14.63 -25.27 L-17.54 -23.35 L-20.19 -21.09 L-22.56 -18.54 L-24.61 -15.72 L-26.3 -12.68 L-27.63 -9.45 L-28.56 -6.1 L-29.08 -2.65 L-29.19 0.83Z M10.3 0 L10.17 1.61 L8.89 1.41 L8.56 2.78 L9.8 3.18 L9.18 4.68 L8.02 4.09 L7.28 5.29 L8.33 6.05 L7.28 7.28 L6.36 6.36 L5.29 7.28 L6.05 8.33 L4.68 9.18 L4.09 8.02 L2.78 8.56 L3.18 9.8 L1.61 10.17 L1.41 8.89 L0 9 L0 10.3 L-1.61 10.17 L-1.41 8.89 L-2.78 8.56 L-3.18 9.8 L-4.68 9.18 L-4.09 8.02 L-5.29 7.28 L-6.05 8.33 L-7.28 7.28 L-6.36 6.36 L-7.28 5.29 L-8.33 6.05 L-9.18 4.68 L-8.02 4.09 L-8.56 2.78 L-9.8 3.18 L-10.17 1.61 L-8.89 1.41 L-9 0 L-10.3 0 L-10.17 -1.61 L-8.89 -1.41 L-8.56 -2.78 L-9.8 -3.18 L-9.18 -4.68 L-8.02 -4.09 L-7.28 -5.29 L-8.33 -6.05 L-7.28 -7.28 L-6.36 -6.36 L-5.29 -7.28 L-6.05 -8.33 L-4.68 -9.18 L-4.09 -8.02 L-2.78 -8.56 L-3.18 -9.8 L-1.61 -10.17 L-1.41 -8.89 L-0 -9 L-0 -10.3 L1.61 -10.17 L1.41 -8.89 L2.78 -8.56 L3.18 -9.8 L4.68 -9.18 L4.09 -8.02 L5.29 -7.28 L6.05 -8.33 L7.28 -7.28 L6.36 -6.36 L7.28 -5.29 L8.33 -6.05 L9.18 -4.68 L8.02 -4.09 L8.56 -2.78 L9.8 -3.18 L10.17 -1.61 L8.89 -1.41 L9 -0Z " transform="translate(500.5 353.86) rotate(29.2) scale(0.63 1)" />
<path fill-rule="evenodd" fill="#909090" d="M33.2 0 L32.79 5.19 L31.58 10.26 L29.58 15.07 L26.86 19.51 L23.48 23.48 L19.51 26.86 L15.07 29.58 L10.26 31.58 L5.19 32.79 L0 33.2 L-5.19 32.79 L-10.26 31.58 L-15.07 29.58 L-19.51 26.86 L-23.48 23.48 L-26.86 19.51 L-29.58 15.07 L-31.58 10.26 L-32.79 5.19 L-33.2 0 L-32.79 -5.19 L-31.58 -10.26 L-29.58 -15.07 L-26.86 -19.51 L-23.48 -23.48 L-19.51 -26.86 L-15.07 -29.58 L-10.26 -31.58 L-5.19 -32.79 L-0 -33.2 L5.19 -32.79 L10.26 -31.58 L15.07 -29.58 L19.51 -26.86 L23.48 -23.48 L26.86 -19.51 L29.58 -15.07 L31.58 -10.26 L32.79 -5.19Z M32 0 L31.61 5.01 L30.43 9.89 L28.51 14.53 L25.89 18.81 L22.63 22.63 L18.81 25.89 L14.53 28.51 L9.89 30.43 L5.01 31.61 L0 32 L-5.01 31.61 L-9.89 30.43 L-14.53 28.51 L-18.81 25.89 L-22.63 22.63 L-25.89 18.81 L-28.51 14.53 L-30.43 9.89 L-31.61 5.01 L-32 0 L-31.61 -5.01 L-30.43 -9.89 L-28.51 -14.53 L-25.89 -18.81 L-22.63 -22.63 L-18.81 -25.89 L-14.53 -28.51 L-9.89 -30.43 L-5.01 -31.61 L-0 -32 L5.01 -31.61 L9.89 -30.43 L14.53 -28.51 L18.81 -25.89 L22.63 -22.63 L25.89 -18.81 L28.51 -14.53 L30.43 -9.89 L31.61 -5.01Z " transform="translate(500.5 353.86) rotate(29.2) scale(0.63 1)" />
<line x1="3.57" y1="-16.11" x2="6.51" y2="-29.39" stroke="#acacac" stroke-width="4.2" transform="translate(500.5 353.86) rotate(29.2) scale(0.63 1)"/>
<line x1="3.57" y1="-16.11" x2="6.51" y2="-29.39" stroke="#484848" stroke-width="1.1" transform="translate(500.5 353.86) rotate(29.2) scale(0.63 1)"/>
<line x1="16.23" y1="-2.98" x2="29.61" y2="-5.43" stroke="#acacac" stroke-width="4.2" transform="translate(500.5 353.86) rotate(29.2) scale(0.63 1)"/>
<line x1="16.23" y1="-2.98" x2="29.61" y2="-5.43" stroke="#484848" stroke-width="1.1" transform="translate(500.5 353.86) rotate(29.2) scale(0.63 1)"/>
<line x1="-2.58" y1="16.3" x2="-4.71" y2="29.73" stroke="#acacac" stroke-width="4.2" transform="translate(500.5 353.86) rotate(29.2) scale(0.63 1)"/>
<line x1="-2.58" y1="16.3" x2="-4.71" y2="29.73" stroke="#484848" stroke-width="1.1" transform="translate(500.5 353.86) rotate(29.2) scale(0.63 1)"/>
<line x1="-16.25" y1="2.87" x2="-29.64" y2="5.23" stroke="#acacac" stroke-width="4.2" transform="translate(500.5 353.86) rotate(29.2) scale(0.63 1)"/>
<line x1="-16.25" y1="2.87" x2="-29.64" y2="5.23" stroke="#484848" stroke-width="1.1" transform="translate(500.5 353.86) rotate(29.2) scale(0.63 1)"/>
<path fill-rule="evenodd" fill="#929292" d="M16.2 0 L16 2.53 L15.41 5.01 L14.43 7.35 L13.11 9.52 L11.46 11.46 L9.52 13.11 L7.35 14.43 L5.01 15.41 L2.53 16 L0 16.2 L-2.53 16 L-5.01 15.41 L-7.35 14.43 L-9.52 13.11 L-11.46 11.46 L-13.11 9.52 L-14.43 7.35 L-15.41 5.01 L-16 2.53 L-16.2 0 L-16 -2.53 L-15.41 -5.01 L-14.43 -7.35 L-13.11 -9.52 L-11.46 -11.46 L-9.52 -13.11 L-7.35 -14.43 L-5.01 -15.41 L-2.53 -16 L-0 -16.2 L2.53 -16 L5.01 -15.41 L7.35 -14.43 L9.52 -13.11 L11.46 -11.46 L13.11 -9.52 L14.43 -7.35 L15.41 -5.01 L16 -2.53Z M14.4 0 L14.22 2.25 L13.7 4.45 L12.83 6.54 L11.65 8.46 L10.18 10.18 L8.46 11.65 L6.54 12.83 L4.45 13.7 L2.25 14.22 L0 14.4 L-2.25 14.22 L-4.45 13.7 L-6.54 12.83 L-8.46 11.65 L-10.18 10.18 L-11.65 8.46 L-12.83 6.54 L-13.7 4.45 L-14.22 2.25 L-14.4 0 L-14.22 -2.25 L-13.7 -4.45 L-12.83 -6.54 L-11.65 -8.46 L-10.18 -10.18 L-8.46 -11.65 L-6.54 -12.83 L-4.45 -13.7 L-2.25 -14.22 L-0 -14.4 L2.25 -14.22 L4.45 -13.7 L6.54 -12.83 L8.46 -11.65 L10.18 -10.18 L11.65 -8.46 L12.83 -6.54 L13.7 -4.45 L14.22 -2.25Z " transform="translate(500.5 353.86) rotate(29.2) scale(0.63 1)" />
<line x1="494" y1="349.33" x2="507" y2="356.6" stroke="#555" stroke-width="0.7" />
<ellipse cx="536" cy="372.8" rx="7.44" ry="12.4" transform="rotate(29.2 536 372.8)" fill="none" stroke="#555" stroke-width="0.9" />
<ellipse cx="565" cy="389.31" rx="4.07" ry="7.4" transform="rotate(29.2 565 389.31)" fill="#6c6c6c" stroke="none" stroke-width="1" />
<polygon points="568.61,382.85 619.61,411.35 612.39,424.27 561.39,395.77" fill="url(#g11)" stroke="none" stroke-width="1" />
<polygon points="568.61,382.85 573.61,385.65 566.39,398.56 561.39,395.77" fill="#6a6a6a" stroke="none" stroke-width="1" opacity="0.7"/>
<path d="M627 407 C622 407 617 411 613.5 416 C611 420 610 423 610.4 426 L612.5 438 L616 455 L618.2 470 L620 495 L620.4 511 C620.6 515.5 623 518.4 626.5 518.4 L633 518.2 C636.5 518 638.8 515.5 638.8 511.5 L637.6 480 L636.4 454 L635.6 430 L634.8 417.5 C634.5 411 631.5 407 627 407Z" fill="url(#arm2)" stroke="none" stroke-width="1" />
<path d="M627 407 C622 407 617 411 613.5 416 C611 420 610 423 610.4 426 L612.5 438 L616 455 L618.2 470 L620 495 L620.4 511 C620.6 515.5 623 518.4 626.5 518.4 L622.4 512 L621.6 495 L619.9 470 L617.4 452 L613.4 430 C612.6 424 615 416 620.5 410.5 Z" fill="#727272" stroke="none" stroke-width="1" opacity="0.95"/>
<path d="M623 426 C624.5 445 627.5 470 629 502 C629.2 506.5 635.4 506.5 635.4 502 L634.6 470 L634.2 440 L634.3 426 Z" fill="#848484" stroke="none" stroke-width="1" />
<path d="M623.2 428 C624.6 447 627.6 470 629.1 502" fill="none" stroke="#6a6a6a" stroke-width="0.9" />
<path d="M634.9 420 L635.9 455 L637.1 480 L638.2 510" fill="none" stroke="#5a5a5a" stroke-width="0.9" />
<ellipse cx="628.3" cy="422.9" rx="6.08" ry="7.6" transform="rotate(29.2 628.3 422.9)" fill="#5a5a5a" stroke="none" stroke-width="1" />
<ellipse cx="629.2" cy="421.9" rx="4.72" ry="5.9" transform="rotate(29.2 629.2 421.9)" fill="#9c9c9c" stroke="none" stroke-width="1" />
<ellipse cx="632.1" cy="511.4" rx="2.72" ry="3.4" transform="rotate(29.2 632.1 511.4)" fill="#5e5e5e" stroke="none" stroke-width="1" />
<ellipse cx="632.5" cy="511.6" rx="1.84" ry="2.3" transform="rotate(29.2 632.5 511.6)" fill="#999" stroke="none" stroke-width="1" />
<line x1="631.6" y1="470.6" x2="657.9" y2="485.1" stroke="#555" stroke-width="0.7" />
<line x1="471.4" y1="112" x2="601.7" y2="184.82" stroke="#555" stroke-width="0.7" />
<line x1="463.5" y1="136.72" x2="568" y2="195.12" stroke="#555" stroke-width="0.7" stroke-dasharray="30 3"/>
<g transform="translate(497.6 127.24) rotate(29.2) scale(0.6 1)"><mask id="m16"><rect x="-60" y="-60" width="120" height="120" fill="#fff"/><path d="M29.7 0 L29.33 4.65 L28.25 9.18 L26.46 13.48 L24.03 17.46 L21 21 L17.46 24.03 L13.48 26.46 L9.18 28.25 L4.65 29.33 L0 29.7 L-4.65 29.33 L-9.18 28.25 L-13.48 26.46 L-17.46 24.03 L-21 21 L-24.03 17.46 L-26.46 13.48 L-28.25 9.18 L-29.33 4.65 L-29.7 0 L-29.33 -4.65 L-28.25 -9.18 L-26.46 -13.48 L-24.03 -17.46 L-21 -21 L-17.46 -24.03 L-13.48 -26.46 L-9.18 -28.25 L-4.65 -29.33 L-0 -29.7 L4.65 -29.33 L9.18 -28.25 L13.48 -26.46 L17.46 -24.03 L21 -21 L24.03 -17.46 L26.46 -13.48 L28.25 -9.18 L29.33 -4.65Z " fill="#000"/><path d="M10.92 -26.2 L10.61 -24.25 L9.72 -22.49 L8.32 -21.1 L6.57 -20.2 L4.62 -19.9 L2.67 -20.2 L0.92 -21.1 L-0.48 -22.49 L-1.37 -24.25 L-1.68 -26.2 L-1.37 -28.14 L-0.48 -29.9 L0.92 -31.29 L2.67 -32.19 L4.62 -32.5 L6.57 -32.19 L8.32 -31.29 L9.72 -29.9 L10.61 -28.14Z M32.67 -3.47 L32.36 -1.53 L31.47 0.23 L30.08 1.62 L28.32 2.52 L26.37 2.83 L24.43 2.52 L22.67 1.62 L21.28 0.23 L20.38 -1.53 L20.07 -3.47 L20.38 -5.42 L21.28 -7.18 L22.67 -8.57 L24.43 -9.46 L26.37 -9.77 L28.32 -9.46 L30.08 -8.57 L31.47 -7.18 L32.36 -5.42Z M1.22 26.11 L0.92 28.06 L0.02 29.81 L-1.37 31.21 L-3.13 32.1 L-5.08 32.41 L-7.02 32.1 L-8.78 31.21 L-10.17 29.81 L-11.07 28.06 L-11.38 26.11 L-11.07 24.16 L-10.17 22.41 L-8.78 21.01 L-7.02 20.12 L-5.08 19.81 L-3.13 20.12 L-1.37 21.01 L0.02 22.41 L0.92 24.16Z M-19.72 5.53 L-20.03 7.48 L-20.92 9.23 L-22.32 10.63 L-24.07 11.52 L-26.02 11.83 L-27.97 11.52 L-29.72 10.63 L-31.12 9.23 L-32.01 7.48 L-32.32 5.53 L-32.01 3.58 L-31.12 1.83 L-29.72 0.43 L-27.97 -0.46 L-26.02 -0.77 L-24.07 -0.46 L-22.32 0.43 L-20.92 1.83 L-20.03 3.58Z " fill="#fff"/><circle cx="4.62" cy="-26.2" r="3.5" fill="#000"/><circle cx="26.37" cy="-3.47" r="3.5" fill="#000"/><circle cx="-5.08" cy="26.11" r="3.5" fill="#000"/><circle cx="-26.02" cy="5.53" r="3.5" fill="#000"/></mask>
<path d="M32.7 0 L32.63 2.21 L35.81 3.65 L35.65 5.03 L32.21 5.66 L31.75 7.83 L31.15 9.95 L33.9 12.11 L33.41 13.41 L29.92 13.2 L28.95 15.2 L27.86 17.12 L30.02 19.87 L29.23 21.02 L25.89 19.98 L24.48 21.68 L22.95 23.29 L24.39 26.48 L23.35 27.4 L20.35 25.59 L18.58 26.91 L16.71 28.11 L17.34 31.55 L16.11 32.19 L13.64 29.72 L11.6 30.58 L9.5 31.29 L9.29 34.78 L7.94 35.11 L6.13 32.12 L3.94 32.46 L1.74 32.65 L0.7 35.99 L-0.7 35.99 L-1.74 32.65 L-3.94 32.46 L-6.13 32.12 L-7.94 35.11 L-9.29 34.78 L-9.5 31.29 L-11.6 30.58 L-13.64 29.72 L-16.11 32.19 L-17.34 31.55 L-16.71 28.11 L-18.58 26.91 L-20.35 25.59 L-23.35 27.4 L-24.39 26.48 L-22.95 23.29 L-24.48 21.68 L-25.89 19.98 L-29.23 21.02 L-30.02 19.87 L-27.86 17.12 L-28.95 15.2 L-29.92 13.2 L-33.41 13.41 L-33.9 12.11 L-31.15 9.95 L-31.75 7.83 L-32.21 5.66 L-35.65 5.03 L-35.81 3.65 L-32.63 2.21 L-32.7 -0 L-32.63 -2.21 L-35.81 -3.65 L-35.65 -5.03 L-32.21 -5.66 L-31.75 -7.83 L-31.15 -9.95 L-33.9 -12.11 L-33.41 -13.41 L-29.92 -13.2 L-28.95 -15.2 L-27.86 -17.12 L-30.02 -19.87 L-29.23 -21.02 L-25.89 -19.98 L-24.48 -21.68 L-22.95 -23.29 L-24.39 -26.48 L-23.35 -27.4 L-20.35 -25.59 L-18.58 -26.91 L-16.71 -28.11 L-17.34 -31.55 L-16.11 -32.19 L-13.64 -29.72 L-11.6 -30.58 L-9.5 -31.29 L-9.29 -34.78 L-7.94 -35.11 L-6.13 -32.12 L-3.94 -32.46 L-1.74 -32.65 L-0.7 -35.99 L0.7 -35.99 L1.74 -32.65 L3.94 -32.46 L6.13 -32.12 L7.94 -35.11 L9.29 -34.78 L9.5 -31.29 L11.6 -30.58 L13.64 -29.72 L16.11 -32.19 L17.34 -31.55 L16.71 -28.11 L18.58 -26.91 L20.35 -25.59 L23.35 -27.4 L24.39 -26.48 L22.95 -23.29 L24.48 -21.68 L25.89 -19.98 L29.23 -21.02 L30.02 -19.87 L27.86 -17.12 L28.95 -15.2 L29.92 -13.2 L33.41 -13.41 L33.9 -12.11 L31.15 -9.95 L31.75 -7.83 L32.21 -5.66 L35.65 -5.03 L35.81 -3.65 L32.63 -2.21Z " fill="#555" mask="url(#m16)" transform="translate(-1.6 0)"/>
<path d="M32.7 0 L32.63 2.21 L35.81 3.65 L35.65 5.03 L32.21 5.66 L31.75 7.83 L31.15 9.95 L33.9 12.11 L33.41 13.41 L29.92 13.2 L28.95 15.2 L27.86 17.12 L30.02 19.87 L29.23 21.02 L25.89 19.98 L24.48 21.68 L22.95 23.29 L24.39 26.48 L23.35 27.4 L20.35 25.59 L18.58 26.91 L16.71 28.11 L17.34 31.55 L16.11 32.19 L13.64 29.72 L11.6 30.58 L9.5 31.29 L9.29 34.78 L7.94 35.11 L6.13 32.12 L3.94 32.46 L1.74 32.65 L0.7 35.99 L-0.7 35.99 L-1.74 32.65 L-3.94 32.46 L-6.13 32.12 L-7.94 35.11 L-9.29 34.78 L-9.5 31.29 L-11.6 30.58 L-13.64 29.72 L-16.11 32.19 L-17.34 31.55 L-16.71 28.11 L-18.58 26.91 L-20.35 25.59 L-23.35 27.4 L-24.39 26.48 L-22.95 23.29 L-24.48 21.68 L-25.89 19.98 L-29.23 21.02 L-30.02 19.87 L-27.86 17.12 L-28.95 15.2 L-29.92 13.2 L-33.41 13.41 L-33.9 12.11 L-31.15 9.95 L-31.75 7.83 L-32.21 5.66 L-35.65 5.03 L-35.81 3.65 L-32.63 2.21 L-32.7 -0 L-32.63 -2.21 L-35.81 -3.65 L-35.65 -5.03 L-32.21 -5.66 L-31.75 -7.83 L-31.15 -9.95 L-33.9 -12.11 L-33.41 -13.41 L-29.92 -13.2 L-28.95 -15.2 L-27.86 -17.12 L-30.02 -19.87 L-29.23 -21.02 L-25.89 -19.98 L-24.48 -21.68 L-22.95 -23.29 L-24.39 -26.48 L-23.35 -27.4 L-20.35 -25.59 L-18.58 -26.91 L-16.71 -28.11 L-17.34 -31.55 L-16.11 -32.19 L-13.64 -29.72 L-11.6 -30.58 L-9.5 -31.29 L-9.29 -34.78 L-7.94 -35.11 L-6.13 -32.12 L-3.94 -32.46 L-1.74 -32.65 L-0.7 -35.99 L0.7 -35.99 L1.74 -32.65 L3.94 -32.46 L6.13 -32.12 L7.94 -35.11 L9.29 -34.78 L9.5 -31.29 L11.6 -30.58 L13.64 -29.72 L16.11 -32.19 L17.34 -31.55 L16.71 -28.11 L18.58 -26.91 L20.35 -25.59 L23.35 -27.4 L24.39 -26.48 L22.95 -23.29 L24.48 -21.68 L25.89 -19.98 L29.23 -21.02 L30.02 -19.87 L27.86 -17.12 L28.95 -15.2 L29.92 -13.2 L33.41 -13.41 L33.9 -12.11 L31.15 -9.95 L31.75 -7.83 L32.21 -5.66 L35.65 -5.03 L35.81 -3.65 L32.63 -2.21Z " fill="#787878" mask="url(#m16)"/></g>
<path fill-rule="evenodd" fill="#4c4c4c" d="M43.9 0 L43.85 2.14 L47.17 3.46 L47.06 4.78 L43.55 5.5 L43.23 7.62 L42.81 9.73 L45.85 11.6 L45.51 12.88 L41.94 12.98 L41.25 15.01 L40.47 17.01 L43.14 19.39 L42.59 20.59 L39.05 20.07 L38.02 21.95 L36.9 23.78 L39.12 26.59 L38.36 27.67 L34.97 26.54 L33.63 28.22 L32.21 29.83 L33.91 32.98 L32.98 33.91 L29.83 32.21 L28.22 33.63 L26.54 34.97 L27.67 38.36 L26.59 39.12 L23.78 36.9 L21.95 38.02 L20.07 39.05 L20.59 42.59 L19.39 43.14 L17.01 40.47 L15.01 41.25 L12.98 41.94 L12.88 45.51 L11.6 45.85 L9.73 42.81 L7.62 43.23 L5.5 43.55 L4.78 47.06 L3.46 47.17 L2.14 43.85 L0 43.9 L-2.14 43.85 L-3.46 47.17 L-4.78 47.06 L-5.5 43.55 L-7.62 43.23 L-9.73 42.81 L-11.6 45.85 L-12.88 45.51 L-12.98 41.94 L-15.01 41.25 L-17.01 40.47 L-19.39 43.14 L-20.59 42.59 L-20.07 39.05 L-21.95 38.02 L-23.78 36.9 L-26.59 39.12 L-27.67 38.36 L-26.54 34.97 L-28.22 33.63 L-29.83 32.21 L-32.98 33.91 L-33.91 32.98 L-32.21 29.83 L-33.63 28.22 L-34.97 26.54 L-38.36 27.67 L-39.12 26.59 L-36.9 23.78 L-38.02 21.95 L-39.05 20.07 L-42.59 20.59 L-43.14 19.39 L-40.47 17.01 L-41.25 15.01 L-41.94 12.98 L-45.51 12.88 L-45.85 11.6 L-42.81 9.73 L-43.23 7.62 L-43.55 5.5 L-47.06 4.78 L-47.17 3.46 L-43.85 2.14 L-43.9 0 L-43.85 -2.14 L-47.17 -3.46 L-47.06 -4.78 L-43.55 -5.5 L-43.23 -7.62 L-42.81 -9.73 L-45.85 -11.6 L-45.51 -12.88 L-41.94 -12.98 L-41.25 -15.01 L-40.47 -17.01 L-43.14 -19.39 L-42.59 -20.59 L-39.05 -20.07 L-38.02 -21.95 L-36.9 -23.78 L-39.12 -26.59 L-38.36 -27.67 L-34.97 -26.54 L-33.63 -28.22 L-32.21 -29.83 L-33.91 -32.98 L-32.98 -33.91 L-29.83 -32.21 L-28.22 -33.63 L-26.54 -34.97 L-27.67 -38.36 L-26.59 -39.12 L-23.78 -36.9 L-21.95 -38.02 L-20.07 -39.05 L-20.59 -42.59 L-19.39 -43.14 L-17.01 -40.47 L-15.01 -41.25 L-12.98 -41.94 L-12.88 -45.51 L-11.6 -45.85 L-9.73 -42.81 L-7.62 -43.23 L-5.5 -43.55 L-4.78 -47.06 L-3.46 -47.17 L-2.14 -43.85 L-0 -43.9 L2.14 -43.85 L3.46 -47.17 L4.78 -47.06 L5.5 -43.55 L7.62 -43.23 L9.73 -42.81 L11.6 -45.85 L12.88 -45.51 L12.98 -41.94 L15.01 -41.25 L17.01 -40.47 L19.39 -43.14 L20.59 -42.59 L20.07 -39.05 L21.95 -38.02 L23.78 -36.9 L26.59 -39.12 L27.67 -38.36 L26.54 -34.97 L28.22 -33.63 L29.83 -32.21 L32.98 -33.91 L33.91 -32.98 L32.21 -29.83 L33.63 -28.22 L34.97 -26.54 L38.36 -27.67 L39.12 -26.59 L36.9 -23.78 L38.02 -21.95 L39.05 -20.07 L42.59 -20.59 L43.14 -19.39 L40.47 -17.01 L41.25 -15.01 L41.94 -12.98 L45.51 -12.88 L45.85 -11.6 L42.81 -9.73 L43.23 -7.62 L43.55 -5.5 L47.06 -4.78 L47.17 -3.46 L43.85 -2.14Z " transform="translate(550.5 157.19) rotate(29.2) scale(0.6 1)" />
<path fill-rule="evenodd" fill="#6b6b6b" d="M43.9 0 L43.85 2.14 L47.17 3.46 L47.06 4.78 L43.55 5.5 L43.23 7.62 L42.81 9.73 L45.85 11.6 L45.51 12.88 L41.94 12.98 L41.25 15.01 L40.47 17.01 L43.14 19.39 L42.59 20.59 L39.05 20.07 L38.02 21.95 L36.9 23.78 L39.12 26.59 L38.36 27.67 L34.97 26.54 L33.63 28.22 L32.21 29.83 L33.91 32.98 L32.98 33.91 L29.83 32.21 L28.22 33.63 L26.54 34.97 L27.67 38.36 L26.59 39.12 L23.78 36.9 L21.95 38.02 L20.07 39.05 L20.59 42.59 L19.39 43.14 L17.01 40.47 L15.01 41.25 L12.98 41.94 L12.88 45.51 L11.6 45.85 L9.73 42.81 L7.62 43.23 L5.5 43.55 L4.78 47.06 L3.46 47.17 L2.14 43.85 L0 43.9 L-2.14 43.85 L-3.46 47.17 L-4.78 47.06 L-5.5 43.55 L-7.62 43.23 L-9.73 42.81 L-11.6 45.85 L-12.88 45.51 L-12.98 41.94 L-15.01 41.25 L-17.01 40.47 L-19.39 43.14 L-20.59 42.59 L-20.07 39.05 L-21.95 38.02 L-23.78 36.9 L-26.59 39.12 L-27.67 38.36 L-26.54 34.97 L-28.22 33.63 L-29.83 32.21 L-32.98 33.91 L-33.91 32.98 L-32.21 29.83 L-33.63 28.22 L-34.97 26.54 L-38.36 27.67 L-39.12 26.59 L-36.9 23.78 L-38.02 21.95 L-39.05 20.07 L-42.59 20.59 L-43.14 19.39 L-40.47 17.01 L-41.25 15.01 L-41.94 12.98 L-45.51 12.88 L-45.85 11.6 L-42.81 9.73 L-43.23 7.62 L-43.55 5.5 L-47.06 4.78 L-47.17 3.46 L-43.85 2.14 L-43.9 0 L-43.85 -2.14 L-47.17 -3.46 L-47.06 -4.78 L-43.55 -5.5 L-43.23 -7.62 L-42.81 -9.73 L-45.85 -11.6 L-45.51 -12.88 L-41.94 -12.98 L-41.25 -15.01 L-40.47 -17.01 L-43.14 -19.39 L-42.59 -20.59 L-39.05 -20.07 L-38.02 -21.95 L-36.9 -23.78 L-39.12 -26.59 L-38.36 -27.67 L-34.97 -26.54 L-33.63 -28.22 L-32.21 -29.83 L-33.91 -32.98 L-32.98 -33.91 L-29.83 -32.21 L-28.22 -33.63 L-26.54 -34.97 L-27.67 -38.36 L-26.59 -39.12 L-23.78 -36.9 L-21.95 -38.02 L-20.07 -39.05 L-20.59 -42.59 L-19.39 -43.14 L-17.01 -40.47 L-15.01 -41.25 L-12.98 -41.94 L-12.88 -45.51 L-11.6 -45.85 L-9.73 -42.81 L-7.62 -43.23 L-5.5 -43.55 L-4.78 -47.06 L-3.46 -47.17 L-2.14 -43.85 L-0 -43.9 L2.14 -43.85 L3.46 -47.17 L4.78 -47.06 L5.5 -43.55 L7.62 -43.23 L9.73 -42.81 L11.6 -45.85 L12.88 -45.51 L12.98 -41.94 L15.01 -41.25 L17.01 -40.47 L19.39 -43.14 L20.59 -42.59 L20.07 -39.05 L21.95 -38.02 L23.78 -36.9 L26.59 -39.12 L27.67 -38.36 L26.54 -34.97 L28.22 -33.63 L29.83 -32.21 L32.98 -33.91 L33.91 -32.98 L32.21 -29.83 L33.63 -28.22 L34.97 -26.54 L38.36 -27.67 L39.12 -26.59 L36.9 -23.78 L38.02 -21.95 L39.05 -20.07 L42.59 -20.59 L43.14 -19.39 L40.47 -17.01 L41.25 -15.01 L41.94 -12.98 L45.51 -12.88 L45.85 -11.6 L42.81 -9.73 L43.23 -7.62 L43.55 -5.5 L47.06 -4.78 L47.17 -3.46 L43.85 -2.14Z " transform="translate(551.9 157.89) rotate(29.2) scale(0.6 1)" />
<path d="M540.5 186.5 C541.67 186.83 545.25 185.67 548 184.5 C550.75 183.33 554.17 181.58 557 179.5 C559.83 177.42 562.92 174.25 565 172 C567.08 169.75 569.17 167.25 569.5 166 C569.83 164.75 568.25 163.75 567 164.5 C565.75 165.25 564 168.5 562 170.5 C560 172.5 557.5 174.75 555 176.5 C552.5 178.25 549.33 180 547 181 C544.67 182 542.08 181.58 541 182.5 C539.92 183.42 539.33 186.17 540.5 186.5 Z " fill="#8a8a8a" stroke="none" stroke-width="1" />
<path d="M534.6 148.6 C533.87 148.02 535.33 144.6 536.2 142.8 C537.07 141 538.33 139.45 539.8 137.8 C541.27 136.15 543.25 134.28 545 132.9 C546.75 131.52 548.5 130.43 550.3 129.5 C552.1 128.57 554.03 127.78 555.8 127.3 C557.57 126.82 559.45 126.52 560.9 126.6 C562.35 126.68 563.85 127.07 564.5 127.8 C565.15 128.53 565.12 129.93 564.8 131 C564.48 132.07 563.77 133.03 562.6 134.2 C561.43 135.37 559.28 137.02 557.8 138 C556.32 138.98 555.08 139.5 553.7 140.1 C552.32 140.7 550.87 141.13 549.5 141.6 C548.13 142.07 546.98 142.12 545.5 142.9 C544.02 143.68 542.42 145.35 540.6 146.3 C538.78 147.25 535.33 149.18 534.6 148.6 Z " fill="#fff" stroke="#555" stroke-width="0.5" />
<path d="M573.1 134.6 C573.98 134.82 574.83 137 575.3 138.5 C575.77 140 576.03 141.77 575.9 143.6 C575.77 145.43 575.27 147.72 574.5 149.5 C573.73 151.28 572.47 153.52 571.3 154.3 C570.13 155.08 568.5 154.78 567.5 154.2 C566.5 153.62 565.63 152.08 565.3 150.8 C564.97 149.52 565.22 147.97 565.5 146.5 C565.78 145.03 566.25 143.55 567 142 C567.75 140.45 568.98 138.43 570 137.2 C571.02 135.97 572.22 134.38 573.1 134.6 Z " fill="#fff" stroke="#555" stroke-width="0.5" />
<path d="M528.8 162 C527.85 162.62 527.1 165.17 526.6 167 C526.1 168.83 525.8 170.83 525.8 173 C525.8 175.17 525.98 177.83 526.6 180 C527.22 182.17 528.43 184.67 529.5 186 C530.57 187.33 532.08 188.17 533 188 C533.92 187.83 534.62 186.33 535 185 C535.38 183.67 535.28 181.67 535.3 180 C535.32 178.33 535.32 177 535.1 175 C534.88 173 534.47 169.95 534 168 C533.53 166.05 533.17 164.3 532.3 163.3 C531.43 162.3 529.75 161.38 528.8 162 Z " fill="#fff" stroke="#555" stroke-width="0.5" />
<path d="M536.5 152.5 C538 149.92 542.08 148.95 545 147.5 C547.92 146.05 551.17 144.78 554 143.8 C556.83 142.82 560.08 141.57 562 141.6 C563.92 141.63 564.83 142.27 565.5 144 C566.17 145.73 566.17 149.17 566 152 C565.83 154.83 565.5 158.25 564.5 161 C563.5 163.75 561.92 166.53 560 168.5 C558.08 170.47 555.5 172.02 553 172.8 C550.5 173.58 547.33 173.67 545 173.2 C542.67 172.73 540.5 171.7 539 170 C537.5 168.3 536.42 165.92 536 163 C535.58 160.08 535 155.08 536.5 152.5 Z " fill="#767676" stroke="#5a5a5a" stroke-width="0.5" />
<path d="M536.8 153 C538.17 152.17 542.13 149.45 545 148 C547.87 146.55 551.17 145.3 554 144.3 C556.83 143.3 560.67 142.38 562 142 " fill="none" stroke="#b0b0b0" stroke-width="1.1" />
<path fill-rule="evenodd" fill="#fff" d="M10.6 0 L10.47 1.66 L8.99 1.42 L8.65 2.81 L10.08 3.28 L9.44 4.81 L8.11 4.13 L7.36 5.35 L8.58 6.23 L7.5 7.5 L6.43 6.43 L5.35 7.36 L6.23 8.58 L4.81 9.44 L4.13 8.11 L2.81 8.65 L3.28 10.08 L1.66 10.47 L1.42 8.99 L0 9.1 L0 10.6 L-1.66 10.47 L-1.42 8.99 L-2.81 8.65 L-3.28 10.08 L-4.81 9.44 L-4.13 8.11 L-5.35 7.36 L-6.23 8.58 L-7.5 7.5 L-6.43 6.43 L-7.36 5.35 L-8.58 6.23 L-9.44 4.81 L-8.11 4.13 L-8.65 2.81 L-10.08 3.28 L-10.47 1.66 L-8.99 1.42 L-9.1 0 L-10.6 0 L-10.47 -1.66 L-8.99 -1.42 L-8.65 -2.81 L-10.08 -3.28 L-9.44 -4.81 L-8.11 -4.13 L-7.36 -5.35 L-8.58 -6.23 L-7.5 -7.5 L-6.43 -6.43 L-5.35 -7.36 L-6.23 -8.58 L-4.81 -9.44 L-4.13 -8.11 L-2.81 -8.65 L-3.28 -10.08 L-1.66 -10.47 L-1.42 -8.99 L-0 -9.1 L-0 -10.6 L1.66 -10.47 L1.42 -8.99 L2.81 -8.65 L3.28 -10.08 L4.81 -9.44 L4.13 -8.11 L5.35 -7.36 L6.23 -8.58 L7.5 -7.5 L6.43 -6.43 L7.36 -5.35 L8.58 -6.23 L9.44 -4.81 L8.11 -4.13 L8.65 -2.81 L10.08 -3.28 L10.47 -1.66 L8.99 -1.42 L9.1 -0Z " transform="translate(551.9 157.89) rotate(29.2) scale(0.6 1)" />
<path fill-rule="evenodd" fill="#555" d="M10.9 0 L10.77 1.71 L10.37 3.37 L9.71 4.95 L8.82 6.41 L7.71 7.71 L6.41 8.82 L4.95 9.71 L3.37 10.37 L1.71 10.77 L0 10.9 L-1.71 10.77 L-3.37 10.37 L-4.95 9.71 L-6.41 8.82 L-7.71 7.71 L-8.82 6.41 L-9.71 4.95 L-10.37 3.37 L-10.77 1.71 L-10.9 0 L-10.77 -1.71 L-10.37 -3.37 L-9.71 -4.95 L-8.82 -6.41 L-7.71 -7.71 L-6.41 -8.82 L-4.95 -9.71 L-3.37 -10.37 L-1.71 -10.77 L-0 -10.9 L1.71 -10.77 L3.37 -10.37 L4.95 -9.71 L6.41 -8.82 L7.71 -7.71 L8.82 -6.41 L9.71 -4.95 L10.37 -3.37 L10.77 -1.71Z M9.3 0 L9.19 1.45 L8.84 2.87 L8.29 4.22 L7.52 5.47 L6.58 6.58 L5.47 7.52 L4.22 8.29 L2.87 8.84 L1.45 9.19 L0 9.3 L-1.45 9.19 L-2.87 8.84 L-4.22 8.29 L-5.47 7.52 L-6.58 6.58 L-7.52 5.47 L-8.29 4.22 L-8.84 2.87 L-9.19 1.45 L-9.3 0 L-9.19 -1.45 L-8.84 -2.87 L-8.29 -4.22 L-7.52 -5.47 L-6.58 -6.58 L-5.47 -7.52 L-4.22 -8.29 L-2.87 -8.84 L-1.45 -9.19 L-0 -9.3 L1.45 -9.19 L2.87 -8.84 L4.22 -8.29 L5.47 -7.52 L6.58 -6.58 L7.52 -5.47 L8.29 -4.22 L8.84 -2.87 L9.19 -1.45Z " transform="translate(552.8 158.39) rotate(29.2) scale(0.6 1)" opacity="0.55"/>
<line x1="570.2" y1="130.6" x2="573.8" y2="126.4" stroke="#fff" stroke-width="1.7" stroke-linecap="round"/>
<circle cx="529.4" cy="151.9" r="1.3" fill="#fff"/>
<circle cx="534.6" cy="153.3" r="1.1" fill="#fff"/>
<circle cx="572" cy="162" r="1.4" fill="#fff"/>
<circle cx="531" cy="190.5" r="1.2" fill="#fff"/>
<line x1="563.5" y1="140" x2="570" y2="131.5" stroke="#9a9a9a" stroke-width="1.2" />
<line x1="536" y1="154.5" x2="530.5" y2="153" stroke="#9a9a9a" stroke-width="1.2" />
<line x1="564.5" y1="160.5" x2="571" y2="163.5" stroke="#9a9a9a" stroke-width="1.2" />
<line x1="539.5" y1="171" x2="533" y2="187.5" stroke="#9a9a9a" stroke-width="1.2" />
<line x1="545.5" y1="153.41" x2="562" y2="162.63" stroke="#555" stroke-width="0.7" />
<line x1="523" y1="169.97" x2="566" y2="194.01" stroke="#8a8a8a" stroke-width="0.7" />
<line x1="523" y1="169.97" x2="536" y2="177.24" stroke="#555" stroke-width="0.7" />
<ellipse cx="589.1" cy="177.78" rx="7.56" ry="12.6" transform="rotate(29.2 589.1 177.78)" fill="none" stroke="#555" stroke-width="0.9" />
<ellipse cx="457" cy="133.09" rx="2.16" ry="3.6" transform="rotate(29.2 457 133.09)" fill="url(#g12)" stroke="none" stroke-width="1" />
<polygon points="458.76,129.95 461.96,131.73 458.44,138.02 455.24,136.23" fill="url(#g12)"/>
<ellipse cx="460.2" cy="134.88" rx="2.16" ry="3.6" transform="rotate(29.2 460.2 134.88)" fill="#8a8a8a" stroke="none" stroke-width="0.5" />
<ellipse cx="460.2" cy="134.88" rx="1.56" ry="2.6" transform="rotate(29.2 460.2 134.88)" fill="url(#g13)" stroke="none" stroke-width="1" />
<polygon points="461.47,132.61 464.27,134.17 461.73,138.71 458.93,137.15" fill="url(#g13)"/>
<ellipse cx="463" cy="136.44" rx="1.56" ry="2.6" transform="rotate(29.2 463 136.44)" fill="#7a7a7a" stroke="none" stroke-width="0.5" />
<ellipse cx="567.5" cy="194.84" rx="1.56" ry="2.6" transform="rotate(29.2 567.5 194.84)" fill="url(#g14)" stroke="none" stroke-width="1" />
<polygon points="568.77,192.57 571.27,193.97 568.73,198.51 566.23,197.11" fill="url(#g14)"/>
<ellipse cx="570" cy="196.24" rx="1.56" ry="2.6" transform="rotate(29.2 570 196.24)" fill="url(#g14)" stroke="none" stroke-width="0.5" />
<ellipse cx="570" cy="196.24" rx="2.28" ry="3.8" transform="rotate(29.2 570 196.24)" fill="url(#g15)" stroke="none" stroke-width="1" />
<polygon points="571.85,192.92 575.25,194.82 571.55,201.46 568.15,199.56" fill="url(#g15)"/>
<ellipse cx="573.4" cy="198.14" rx="2.28" ry="3.8" transform="rotate(29.2 573.4 198.14)" fill="#808080" stroke="none" stroke-width="0.5" />
<ellipse cx="506" cy="160.47" rx="2.17" ry="3.5" transform="rotate(29.2 506 160.47)" fill="none" stroke="#808080" stroke-width="1.6" />
<path d="M460.4 138.5 V165.2 L567.6 225 V198.5" fill="none" stroke="#222" stroke-width="0.9" />
<line x1="505.2" y1="164.2" x2="505.2" y2="190" stroke="#222" stroke-width="0.9" />
<line x1="509.9" y1="192.6" x2="509.9" y2="203" stroke="#222" stroke-width="0.9" />
<ellipse cx="244.1" cy="391.4" rx="16" ry="9.4" fill="#efefef" stroke="#333" stroke-width="0.8" />
<ellipse cx="244" cy="388.2" rx="14.6" ry="8.8" fill="#e6e6e6" stroke="#444" stroke-width="0.7" />
<ellipse cx="243.8" cy="387.8" rx="12.4" ry="6.9" fill="none" stroke="#555" stroke-width="2.0" stroke-dasharray="0.8 1.0"/>
<ellipse cx="243.3" cy="388.9" rx="9.6" ry="4.3" fill="#fff" stroke="#333" stroke-width="0.8" />
<path d="M228.3 392.5 Q244 405.5 260 392.5" fill="none" stroke="#555" stroke-width="0.6" />
<line x1="230" y1="393" x2="230" y2="395.8" stroke="#777" stroke-width="0.6" />
<line x1="236" y1="396" x2="236" y2="398.8" stroke="#777" stroke-width="0.6" />
<line x1="244" y1="397.4" x2="244" y2="400.2" stroke="#777" stroke-width="0.6" />
<line x1="252" y1="396" x2="252" y2="398.8" stroke="#777" stroke-width="0.6" />
<line x1="258" y1="393" x2="258" y2="395.8" stroke="#777" stroke-width="0.6" />
<path d="M274.9 384 V390.5 L278.6 396.2 L281.6 400.6 L286.6 402.3 H292 L296.8 400.6 L299.8 396.2 L303.4 390.5 V384" fill="#f6f6f6" stroke="#333" stroke-width="0.7" />
<path d="M274.9 390.5 Q289 401.5 303.4 390.5" fill="none" stroke="#444" stroke-width="0.6" />
<path d="M278.6 396.2 Q289 403.5 299.8 396.2" fill="none" stroke="#555" stroke-width="0.5" />
<ellipse cx="289.1" cy="384" rx="14.2" ry="6.3" fill="#fbfbfb" stroke="#333" stroke-width="0.8" />
<ellipse cx="289.1" cy="384.6" rx="12.4" ry="5" fill="none" stroke="#555" stroke-width="1.7" stroke-dasharray="0.7 1.1"/>
<line x1="276.2" y1="387.23" x2="276.2" y2="390.23" stroke="#666" stroke-width="0.5" />
<line x1="278.35" y1="388.72" x2="278.35" y2="391.72" stroke="#666" stroke-width="0.5" />
<line x1="280.5" y1="389.61" x2="280.5" y2="392.61" stroke="#666" stroke-width="0.5" />
<line x1="282.65" y1="390.21" x2="282.65" y2="393.21" stroke="#666" stroke-width="0.5" />
<line x1="284.8" y1="390.6" x2="284.8" y2="393.6" stroke="#666" stroke-width="0.5" />
<line x1="286.95" y1="390.83" x2="286.95" y2="393.83" stroke="#666" stroke-width="0.5" />
<line x1="289.1" y1="390.9" x2="289.1" y2="393.9" stroke="#666" stroke-width="0.5" />
<line x1="291.25" y1="390.83" x2="291.25" y2="393.83" stroke="#666" stroke-width="0.5" />
<line x1="293.4" y1="390.6" x2="293.4" y2="393.6" stroke="#666" stroke-width="0.5" />
<line x1="295.55" y1="390.21" x2="295.55" y2="393.21" stroke="#666" stroke-width="0.5" />
<line x1="297.7" y1="389.61" x2="297.7" y2="392.61" stroke="#666" stroke-width="0.5" />
<line x1="299.85" y1="388.72" x2="299.85" y2="391.72" stroke="#666" stroke-width="0.5" />
<line x1="302" y1="387.23" x2="302" y2="390.23" stroke="#666" stroke-width="0.5" />
<ellipse cx="289.1" cy="388.2" rx="9.4" ry="3.9" fill="#f0f0f0" stroke="#444" stroke-width="0.6" />
<ellipse cx="289.1" cy="388.6" rx="5.2" ry="2.2" fill="#fff" stroke="#555" stroke-width="0.6" />
<path d="M285.6 388.6 L289.1 387 L292.6 388.6 L289.1 390.2 Z" fill="none" stroke="#666" stroke-width="0.5" />
<line x1="289.1" y1="393.5" x2="289.1" y2="402.3" stroke="#444" stroke-width="0.6" />
<line x1="282.4" y1="392.6" x2="281.8" y2="400.6" stroke="#666" stroke-width="0.5" />
<line x1="295.9" y1="392.6" x2="296.5" y2="400.6" stroke="#666" stroke-width="0.5" />
<path d="M320.9 383 V390.8 C322 397 326 402 330.5 403.6 Q334.5 405 338.6 403.6 C343 402 347 397 347.8 390.8 V383 Z" fill="url(#t20)" stroke="#444" stroke-width="0.6" />
<ellipse cx="334.3" cy="383" rx="13.4" ry="5" fill="#9a9a9a" stroke="#444" stroke-width="0.7" />
<path d="M320.9 387 Q334.3 397.5 347.8 387" fill="none" stroke="#4a4a4a" stroke-width="0.6" />
<path d="M321.3 391 Q334.3 401.5 347.4 391" fill="none" stroke="#4a4a4a" stroke-width="0.6" />
<line x1="322.6" y1="385.84" x2="322.6" y2="389.04" stroke="#5a5a5a" stroke-width="0.5" />
<line x1="324.73" y1="386.9" x2="324.73" y2="390.1" stroke="#5a5a5a" stroke-width="0.5" />
<line x1="326.86" y1="387.56" x2="326.86" y2="390.76" stroke="#5a5a5a" stroke-width="0.5" />
<line x1="328.99" y1="387.99" x2="328.99" y2="391.19" stroke="#5a5a5a" stroke-width="0.5" />
<line x1="331.12" y1="388.26" x2="331.12" y2="391.46" stroke="#5a5a5a" stroke-width="0.5" />
<line x1="333.25" y1="388.38" x2="333.25" y2="391.58" stroke="#5a5a5a" stroke-width="0.5" />
<line x1="335.38" y1="388.38" x2="335.38" y2="391.58" stroke="#5a5a5a" stroke-width="0.5" />
<line x1="337.51" y1="388.25" x2="337.51" y2="391.45" stroke="#5a5a5a" stroke-width="0.5" />
<line x1="339.64" y1="387.99" x2="339.64" y2="391.19" stroke="#5a5a5a" stroke-width="0.5" />
<line x1="341.77" y1="387.55" x2="341.77" y2="390.75" stroke="#5a5a5a" stroke-width="0.5" />
<line x1="343.9" y1="386.89" x2="343.9" y2="390.09" stroke="#5a5a5a" stroke-width="0.5" />
<line x1="346.03" y1="385.82" x2="346.03" y2="389.02" stroke="#5a5a5a" stroke-width="0.5" />
<ellipse cx="334.3" cy="383.8" rx="11.4" ry="3.9" fill="#7c7c7c" stroke="#4a4a4a" stroke-width="0.6" />
<ellipse cx="334.3" cy="385.2" rx="9.6" ry="3.1" fill="#888" stroke="#4a4a4a" stroke-width="0.5" />
<ellipse cx="334.3" cy="386.4" rx="7.8" ry="2.4" fill="#969696" stroke="#555" stroke-width="0.5" />
<line x1="327.5" y1="397" x2="327.5" y2="402" stroke="#5a5a5a" stroke-width="0.6" />
<line x1="331" y1="397" x2="331" y2="402" stroke="#5a5a5a" stroke-width="0.6" />
<line x1="335" y1="397" x2="335" y2="402" stroke="#5a5a5a" stroke-width="0.6" />
<line x1="339" y1="397" x2="339" y2="402" stroke="#5a5a5a" stroke-width="0.6" />
<line x1="342.5" y1="397" x2="342.5" y2="402" stroke="#5a5a5a" stroke-width="0.6" />
<line x1="21.8" y1="56.5" x2="32.8" y2="56.5" stroke="#222" stroke-width="1" />
<circle cx="16.3" cy="56.5" r="5.4" fill="#fff" stroke="#222" stroke-width="0.9"/>
<text x="12.6" y="59.8" font-size="9.4" textLength="7.4" lengthAdjust="spacingAndGlyphs" class="b">21</text>
<line x1="672" y1="487.5" x2="683.8" y2="487.5" stroke="#222" stroke-width="1" />
<circle cx="689.3" cy="487.5" r="5.4" fill="#fff" stroke="#222" stroke-width="0.9"/>
<text x="685.6" y="490.8" font-size="9.4" textLength="7.4" lengthAdjust="spacingAndGlyphs" class="b">21</text>
<line x1="69.5" y1="93.5" x2="69.5" y2="102.8" stroke="#222" stroke-width="0.9" />
<circle cx="69.3" cy="88" r="5.4" fill="#fff" stroke="#222" stroke-width="0.9"/>
<text x="67.15" y="91.3" font-size="9.4" textLength="4.3" lengthAdjust="spacingAndGlyphs" class="b">1</text>
<line x1="170" y1="100.4" x2="181.2" y2="100.4" stroke="#222" stroke-width="0.9" />
<circle cx="186.6" cy="100.2" r="5.4" fill="#fff" stroke="#222" stroke-width="0.9"/>
<text x="184.45" y="103.5" font-size="9.4" textLength="4.3" lengthAdjust="spacingAndGlyphs" class="b">2</text>
<line x1="151.5" y1="122.3" x2="151.5" y2="130.5" stroke="#222" stroke-width="0.9" />
<circle cx="151.5" cy="116.8" r="5.4" fill="#fff" stroke="#222" stroke-width="0.9"/>
<text x="149.35" y="120.1" font-size="9.4" textLength="4.3" lengthAdjust="spacingAndGlyphs" class="b">3</text>
<line x1="102.5" y1="171" x2="102.5" y2="196.5" stroke="#222" stroke-width="0.9" />
<circle cx="102.5" cy="202" r="5.4" fill="#fff" stroke="#222" stroke-width="0.9"/>
<text x="100.35" y="205.3" font-size="9.4" textLength="4.3" lengthAdjust="spacingAndGlyphs" class="b">3</text>
<line x1="125.8" y1="176" x2="125.8" y2="186.5" stroke="#222" stroke-width="0.9" />
<circle cx="125.8" cy="192" r="5.4" fill="#fff" stroke="#222" stroke-width="0.9"/>
<text x="123.65" y="195.3" font-size="9.4" textLength="4.3" lengthAdjust="spacingAndGlyphs" class="b">4</text>
<line x1="150.6" y1="166" x2="150.6" y2="172.5" stroke="#222" stroke-width="0.9" />
<circle cx="150.6" cy="177.9" r="5.4" fill="#fff" stroke="#222" stroke-width="0.9"/>
<text x="148.45" y="181.2" font-size="9.4" textLength="4.3" lengthAdjust="spacingAndGlyphs" class="b">5</text>
<line x1="199.5" y1="136.4" x2="199.5" y2="146" stroke="#222" stroke-width="0.9" />
<path d="M190.5 168 V141.2 L207.8 151.3 V158.5" fill="none" stroke="#222" stroke-width="0.9" />
<circle cx="199.5" cy="131" r="5.4" fill="#fff" stroke="#222" stroke-width="0.9"/>
<text x="197.35" y="134.3" font-size="9.4" textLength="4.3" lengthAdjust="spacingAndGlyphs" class="b">6</text>
<line x1="208" y1="169" x2="208" y2="180" stroke="#222" stroke-width="0.9" />
<circle cx="208" cy="163.8" r="5.4" fill="#fff" stroke="#222" stroke-width="0.9"/>
<text x="205.85" y="167.1" font-size="9.4" textLength="4.3" lengthAdjust="spacingAndGlyphs" class="b">5</text>
<line x1="226" y1="176.5" x2="226" y2="186" stroke="#222" stroke-width="0.9" />
<circle cx="226" cy="171" r="5.4" fill="#fff" stroke="#222" stroke-width="0.9"/>
<text x="223.85" y="174.3" font-size="9.4" textLength="4.3" lengthAdjust="spacingAndGlyphs" class="b">7</text>
<line x1="248.2" y1="188" x2="248.2" y2="198.5" stroke="#222" stroke-width="0.9" />
<circle cx="248.2" cy="182.6" r="5.4" fill="#fff" stroke="#222" stroke-width="0.9"/>
<text x="246.05" y="185.9" font-size="9.4" textLength="4.3" lengthAdjust="spacingAndGlyphs" class="b">8</text>
<path d="M263.6 192 V185.7 L310.5 211.5 V218.4" fill="none" stroke="#222" stroke-width="0.9" />
<line x1="288.5" y1="191" x2="288.5" y2="199.6" stroke="#222" stroke-width="0.9" />
<line x1="290.2" y1="200" x2="290.2" y2="225.5" stroke="#222" stroke-width="0.9" />
<circle cx="288.5" cy="185.7" r="5.4" fill="#fff" stroke="#222" stroke-width="0.9"/>
<text x="286.35" y="189" font-size="9.4" textLength="4.3" lengthAdjust="spacingAndGlyphs" class="b">9</text>
<line x1="263.6" y1="203" x2="263.6" y2="210" stroke="#222" stroke-width="0.9" />
<circle cx="263.6" cy="197.4" r="5.4" fill="#fff" stroke="#222" stroke-width="0.9"/>
<text x="259.9" y="200.7" font-size="9.4" textLength="7.4" lengthAdjust="spacingAndGlyphs" class="b">10</text>
<line x1="310.6" y1="229" x2="310.6" y2="236.5" stroke="#222" stroke-width="0.9" />
<circle cx="310.6" cy="223.6" r="5.4" fill="#fff" stroke="#222" stroke-width="0.9"/>
<text x="306.9" y="226.9" font-size="9.4" textLength="7.4" lengthAdjust="spacingAndGlyphs" class="b">10</text>
<line x1="325" y1="231" x2="325" y2="242" stroke="#222" stroke-width="0.9" />
<circle cx="325" cy="225.4" r="5.4" fill="#fff" stroke="#222" stroke-width="0.9"/>
<text x="322.85" y="228.7" font-size="9.4" textLength="4.3" lengthAdjust="spacingAndGlyphs" class="b">8</text>
<line x1="340.2" y1="239.6" x2="340.2" y2="249.8" stroke="#222" stroke-width="0.9" />
<circle cx="340.2" cy="234.1" r="5.4" fill="#fff" stroke="#222" stroke-width="0.9"/>
<text x="338.05" y="237.4" font-size="9.4" textLength="4.3" lengthAdjust="spacingAndGlyphs" class="b">8</text>
<line x1="361.5" y1="252" x2="361.5" y2="263" stroke="#222" stroke-width="0.9" />
<circle cx="361.5" cy="246.4" r="5.4" fill="#fff" stroke="#222" stroke-width="0.9"/>
<text x="357.8" y="249.7" font-size="9.4" textLength="7.4" lengthAdjust="spacingAndGlyphs" class="b">11</text>
<line x1="391" y1="243.5" x2="391" y2="252.5" stroke="#222" stroke-width="0.9" />
<path d="M380.8 255 V248 L397.5 257 V283.5" fill="none" stroke="#222" stroke-width="0.9" />
<circle cx="391" cy="238" r="5.4" fill="#fff" stroke="#222" stroke-width="0.9"/>
<text x="388.85" y="241.3" font-size="9.4" textLength="4.3" lengthAdjust="spacingAndGlyphs" class="b">6</text>
<line x1="380.6" y1="266" x2="380.6" y2="278.3" stroke="#222" stroke-width="0.9" />
<circle cx="380.6" cy="260.3" r="5.4" fill="#fff" stroke="#222" stroke-width="0.9"/>
<text x="378.45" y="263.6" font-size="9.4" textLength="4.3" lengthAdjust="spacingAndGlyphs" class="b">5</text>
<line x1="413.8" y1="280.3" x2="413.8" y2="295.3" stroke="#222" stroke-width="0.9" />
<circle cx="413.8" cy="274.8" r="5.4" fill="#fff" stroke="#222" stroke-width="0.9"/>
<text x="411.65" y="278.1" font-size="9.4" textLength="4.3" lengthAdjust="spacingAndGlyphs" class="b">5</text>
<line x1="440.9" y1="271.2" x2="440.9" y2="281" stroke="#222" stroke-width="0.9" />
<path d="M430.6 300.5 V275.8 L448.5 285.8 V311.6" fill="none" stroke="#222" stroke-width="0.9" />
<circle cx="440.9" cy="265.7" r="5.4" fill="#fff" stroke="#222" stroke-width="0.9"/>
<text x="437.2" y="269" font-size="9.4" textLength="7.4" lengthAdjust="spacingAndGlyphs" class="b">12</text>
<line x1="507.6" y1="278.2" x2="507.6" y2="288" stroke="#222" stroke-width="0.9" />
<circle cx="507.6" cy="272.7" r="5.4" fill="#fff" stroke="#222" stroke-width="0.9"/>
<text x="503.9" y="276" font-size="9.4" textLength="7.4" lengthAdjust="spacingAndGlyphs" class="b">13</text>
<line x1="539" y1="350" x2="539" y2="360.5" stroke="#222" stroke-width="0.9" />
<circle cx="539" cy="344.5" r="5.4" fill="#fff" stroke="#222" stroke-width="0.9"/>
<text x="535.3" y="347.8" font-size="9.4" textLength="7.4" lengthAdjust="spacingAndGlyphs" class="b">14</text>
<line x1="506" y1="85.3" x2="506" y2="95.2" stroke="#222" stroke-width="0.9" />
<circle cx="506" cy="79.8" r="5.4" fill="#fff" stroke="#222" stroke-width="0.9"/>
<text x="502.3" y="83.1" font-size="9.4" textLength="7.4" lengthAdjust="spacingAndGlyphs" class="b">16</text>
<line x1="564.8" y1="103.8" x2="564.8" y2="113.6" stroke="#222" stroke-width="0.9" />
<circle cx="564.8" cy="98.2" r="5.4" fill="#fff" stroke="#222" stroke-width="0.9"/>
<text x="561.1" y="101.5" font-size="9.4" textLength="7.4" lengthAdjust="spacingAndGlyphs" class="b">17</text>
<line x1="593.2" y1="155.8" x2="593.2" y2="165" stroke="#222" stroke-width="0.9" />
<circle cx="593.2" cy="150.3" r="5.4" fill="#fff" stroke="#222" stroke-width="0.9"/>
<text x="589.5" y="153.6" font-size="9.4" textLength="7.4" lengthAdjust="spacingAndGlyphs" class="b">14</text>
<circle cx="509.9" cy="208.5" r="5.4" fill="#fff" stroke="#222" stroke-width="0.9"/>
<text x="506.2" y="211.8" font-size="9.4" textLength="7.4" lengthAdjust="spacingAndGlyphs" class="b">15</text>
<line x1="243.8" y1="368.6" x2="243.8" y2="377.2" stroke="#222" stroke-width="0.9" />
<circle cx="243.8" cy="363" r="5.4" fill="#fff" stroke="#222" stroke-width="0.9"/>
<text x="240.1" y="366.3" font-size="9.4" textLength="7.4" lengthAdjust="spacingAndGlyphs" class="b">18</text>
<line x1="289" y1="368.6" x2="289" y2="377.2" stroke="#222" stroke-width="0.9" />
<circle cx="289" cy="363" r="5.4" fill="#fff" stroke="#222" stroke-width="0.9"/>
<text x="285.3" y="366.3" font-size="9.4" textLength="7.4" lengthAdjust="spacingAndGlyphs" class="b">19</text>
<line x1="334.2" y1="368.6" x2="334.2" y2="377" stroke="#222" stroke-width="0.9" />
<circle cx="334.2" cy="363" r="5.4" fill="#fff" stroke="#222" stroke-width="0.9"/>
<text x="330.5" y="366.3" font-size="9.4" textLength="7.4" lengthAdjust="spacingAndGlyphs" class="b">20</text>
<text x="228.6" y="352" font-size="7.9" class="b" textLength="31.7" lengthAdjust="spacingAndGlyphs">TL-FC25</text>
<text x="273.7" y="352" font-size="7.9" class="b" textLength="31.1" lengthAdjust="spacingAndGlyphs">TL-FC37</text>
<text x="319" y="352" font-size="7.9" class="b" textLength="30.4" lengthAdjust="spacingAndGlyphs">TL-FC41</text>
<text x="519.4" y="233.7" font-size="7.6" class="b" textLength="18.8" lengthAdjust="spacingAndGlyphs">36-26T</text>
<text x="470" y="404.7" font-size="7.6" class="b" textLength="75.8" lengthAdjust="spacingAndGlyphs">36T / 34T / 32T / 30T / 28T</text>
</svg>
</body></html>
